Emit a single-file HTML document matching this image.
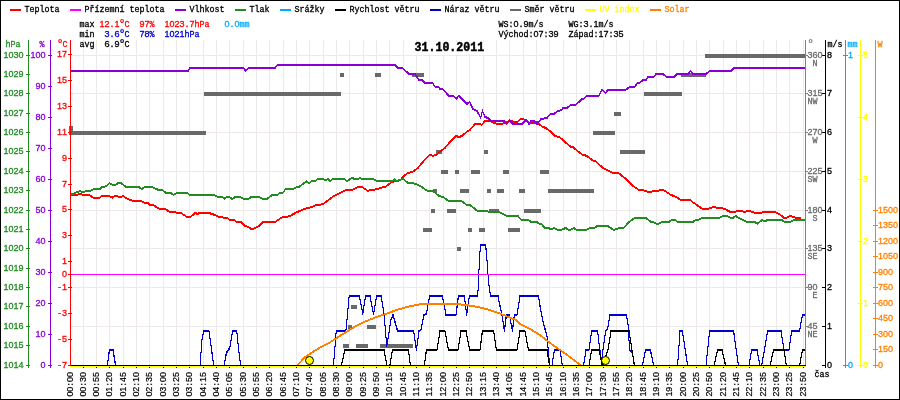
<!DOCTYPE html><html><head><meta charset="utf-8"><title>graf</title><style>html,body{margin:0;padding:0;background:#fff}svg{display:block;will-change:transform}text{font-family:"Liberation Mono",monospace;white-space:pre}.m{font-family:"Liberation Mono",monospace;font-size:8.4px}.s{font-family:"Liberation Sans",sans-serif;font-size:9px}.d{font-family:"Liberation Mono",monospace;font-size:12px}</style></head><body>
<svg width="900" height="400" viewBox="0 0 900 400">
<rect x="0" y="0" width="900" height="400" fill="#ffffff"/>
<g shape-rendering="crispEdges" stroke="#eee9e9" stroke-width="1">
<line x1="83.5" y1="40" x2="83.5" y2="365"/>
<line x1="96.5" y1="40" x2="96.5" y2="365"/>
<line x1="109.5" y1="40" x2="109.5" y2="365"/>
<line x1="123.5" y1="40" x2="123.5" y2="365"/>
<line x1="136.5" y1="40" x2="136.5" y2="365"/>
<line x1="149.5" y1="40" x2="149.5" y2="365"/>
<line x1="163.5" y1="40" x2="163.5" y2="365"/>
<line x1="176.5" y1="40" x2="176.5" y2="365"/>
<line x1="189.5" y1="40" x2="189.5" y2="365"/>
<line x1="203.5" y1="40" x2="203.5" y2="365"/>
<line x1="216.5" y1="40" x2="216.5" y2="365"/>
<line x1="229.5" y1="40" x2="229.5" y2="365"/>
<line x1="243.5" y1="40" x2="243.5" y2="365"/>
<line x1="256.5" y1="40" x2="256.5" y2="365"/>
<line x1="269.5" y1="40" x2="269.5" y2="365"/>
<line x1="283.5" y1="40" x2="283.5" y2="365"/>
<line x1="296.5" y1="40" x2="296.5" y2="365"/>
<line x1="309.5" y1="40" x2="309.5" y2="365"/>
<line x1="323.5" y1="40" x2="323.5" y2="365"/>
<line x1="336.5" y1="40" x2="336.5" y2="365"/>
<line x1="349.5" y1="40" x2="349.5" y2="365"/>
<line x1="363.5" y1="40" x2="363.5" y2="365"/>
<line x1="376.5" y1="40" x2="376.5" y2="365"/>
<line x1="389.5" y1="40" x2="389.5" y2="365"/>
<line x1="403.5" y1="40" x2="403.5" y2="365"/>
<line x1="416.5" y1="40" x2="416.5" y2="365"/>
<line x1="429.5" y1="40" x2="429.5" y2="365"/>
<line x1="443.5" y1="40" x2="443.5" y2="365"/>
<line x1="456.5" y1="40" x2="456.5" y2="365"/>
<line x1="469.5" y1="40" x2="469.5" y2="365"/>
<line x1="483.5" y1="40" x2="483.5" y2="365"/>
<line x1="496.5" y1="40" x2="496.5" y2="365"/>
<line x1="509.5" y1="40" x2="509.5" y2="365"/>
<line x1="523.5" y1="40" x2="523.5" y2="365"/>
<line x1="536.5" y1="40" x2="536.5" y2="365"/>
<line x1="549.5" y1="40" x2="549.5" y2="365"/>
<line x1="563.5" y1="40" x2="563.5" y2="365"/>
<line x1="576.5" y1="40" x2="576.5" y2="365"/>
<line x1="589.5" y1="40" x2="589.5" y2="365"/>
<line x1="603.5" y1="40" x2="603.5" y2="365"/>
<line x1="616.5" y1="40" x2="616.5" y2="365"/>
<line x1="629.5" y1="40" x2="629.5" y2="365"/>
<line x1="643.5" y1="40" x2="643.5" y2="365"/>
<line x1="656.5" y1="40" x2="656.5" y2="365"/>
<line x1="669.5" y1="40" x2="669.5" y2="365"/>
<line x1="683.5" y1="40" x2="683.5" y2="365"/>
<line x1="696.5" y1="40" x2="696.5" y2="365"/>
<line x1="709.5" y1="40" x2="709.5" y2="365"/>
<line x1="723.5" y1="40" x2="723.5" y2="365"/>
<line x1="736.5" y1="40" x2="736.5" y2="365"/>
<line x1="749.5" y1="40" x2="749.5" y2="365"/>
<line x1="763.5" y1="40" x2="763.5" y2="365"/>
<line x1="776.5" y1="40" x2="776.5" y2="365"/>
<line x1="789.5" y1="40" x2="789.5" y2="365"/>
<line x1="803.5" y1="40" x2="803.5" y2="365"/>
<line x1="70" y1="55.5" x2="805" y2="55.5"/>
<line x1="70" y1="93.5" x2="805" y2="93.5"/>
<line x1="70" y1="132.5" x2="805" y2="132.5"/>
<line x1="70" y1="171.5" x2="805" y2="171.5"/>
<line x1="70" y1="210.5" x2="805" y2="210.5"/>
<line x1="70" y1="248.5" x2="805" y2="248.5"/>
<line x1="70" y1="287.5" x2="805" y2="287.5"/>
<line x1="70" y1="326.5" x2="805" y2="326.5"/>
</g>
<g shape-rendering="crispEdges" fill="#696969">
<rect x="69" y="131" width="137" height="4"/>
<rect x="593" y="131" width="22" height="4"/>
<rect x="204" y="92" width="137" height="4"/>
<rect x="644" y="92" width="38" height="4"/>
<rect x="340" y="73" width="4" height="4"/>
<rect x="375" y="73" width="6" height="4"/>
<rect x="412" y="73" width="12" height="4"/>
<rect x="681" y="73" width="25" height="4"/>
<rect x="705" y="54" width="101" height="4"/>
<rect x="614" y="112" width="7" height="4"/>
<rect x="436" y="150" width="6" height="4"/>
<rect x="484" y="150" width="4" height="4"/>
<rect x="620" y="150" width="25" height="4"/>
<rect x="441" y="170" width="7" height="4"/>
<rect x="455" y="170" width="4" height="4"/>
<rect x="471" y="170" width="9" height="4"/>
<rect x="503" y="170" width="6" height="4"/>
<rect x="540" y="170" width="9" height="4"/>
<rect x="433" y="189" width="4" height="4"/>
<rect x="460" y="189" width="9" height="4"/>
<rect x="487" y="189" width="4" height="4"/>
<rect x="497" y="189" width="7" height="4"/>
<rect x="519" y="189" width="6" height="4"/>
<rect x="548" y="189" width="46" height="4"/>
<rect x="431" y="209" width="4" height="4"/>
<rect x="447" y="209" width="9" height="4"/>
<rect x="489" y="209" width="10" height="4"/>
<rect x="524" y="209" width="17" height="4"/>
<rect x="423" y="228" width="9" height="4"/>
<rect x="468" y="228" width="4" height="4"/>
<rect x="479" y="228" width="6" height="4"/>
<rect x="508" y="228" width="12" height="4"/>
<rect x="457" y="247" width="4" height="4"/>
<rect x="351" y="305" width="6" height="4"/>
<rect x="348" y="325" width="4" height="4"/>
<rect x="367" y="325" width="9" height="4"/>
<rect x="343" y="344" width="6" height="4"/>
<rect x="356" y="344" width="12" height="4"/>
<rect x="380" y="344" width="33" height="4"/>
<rect x="69" y="126" width="4" height="6"/>
</g>
<polyline points="70.0,365.0 107.4,365.0 109.4,349.5 113.0,349.5 115.6,365.0 200.0,365.0 202.0,339.5 203.6,330.5 209.0,330.5 211.0,344.5 213.6,365.0 224.0,365.0 226.4,352.5 229.0,348.5 230.0,345.9 232.4,331.5 233.0,330.5 236.8,330.5 238.5,347.5 240.6,365.0 333.5,365.0 336.2,330.5 345.9,330.5 349.2,295.5 359.4,295.5 362.8,313.5 365.5,295.5 370.0,295.5 373.5,313.5 376.7,295.5 381.2,295.5 384.0,313.5 386.8,345.9 391.0,318.9 393.0,314.5 397.6,330.5 413.6,330.5 416.4,349.5 419.0,330.5 421.0,329.5 424.0,314.5 426.4,313.5 429.6,295.5 442.4,295.5 446.0,314.5 456.0,314.5 458.4,295.5 464.4,295.5 466.6,314.5 469.0,297.9 470.0,295.5 477.4,295.5 478.5,286.5 479.0,269.5 479.8,253.2 480.6,244.5 485.5,244.5 486.3,250.8 487.2,262.1 488.0,273.5 488.8,283.3 489.6,290.5 490.7,295.5 498.0,295.5 500.0,305.5 502.0,314.5 504.4,330.5 506.4,314.5 509.6,314.5 512.4,330.5 514.4,314.5 517.0,314.5 520.0,295.5 538.4,295.5 540.0,305.5 543.6,323.5 545.6,330.5 547.0,335.5 549.6,365.0 552.0,365.0 554.4,349.5 560.0,349.5 562.4,365.0 583.6,365.0 586.0,349.5 589.0,349.1 591.6,330.5 597.6,330.5 599.6,347.5 602.0,363.5 603.0,349.5 605.6,330.5 607.6,328.5 610.0,314.5 626.4,314.5 628.0,323.5 629.6,349.5 632.3,351.5 634.4,365.0 642.4,365.0 645.6,349.5 650.4,349.5 653.6,365.0 677.6,365.0 680.0,330.5 682.4,330.5 687.6,365.0 706.0,365.0 709.6,330.5 733.6,330.5 738.4,365.0 749.0,365.0 751.6,349.5 757.0,349.5 760.0,365.0 761.6,365.0 764.4,349.5 767.6,330.5 781.0,330.5 784.0,349.5 789.0,349.5 791.6,330.5 799.6,330.5 802.4,314.5 806.0,314.5" fill="none" stroke="#0000cd" stroke-width="1" stroke-linejoin="miter" shape-rendering="crispEdges"/>
<polyline points="70.0,366.0 107.4,366.0 109.4,350.5 113.0,350.5 115.6,366.0 200.0,366.0 202.0,340.5 203.6,331.5 209.0,331.5 211.0,345.5 213.6,366.0 224.0,366.0 226.4,353.5 229.0,349.5 230.0,346.9 232.4,332.5 233.0,331.5 236.8,331.5 238.5,348.5 240.6,366.0 333.5,366.0 336.2,331.5 345.9,331.5 349.2,296.5 359.4,296.5 362.8,314.5 365.5,296.5 370.0,296.5 373.5,314.5 376.7,296.5 381.2,296.5 384.0,314.5 386.8,346.9 391.0,319.9 393.0,315.5 397.6,331.5 413.6,331.5 416.4,350.5 419.0,331.5 421.0,330.5 424.0,315.5 426.4,314.5 429.6,296.5 442.4,296.5 446.0,315.5 456.0,315.5 458.4,296.5 464.4,296.5 466.6,315.5 469.0,298.9 470.0,296.5 477.4,296.5 478.5,287.5 479.0,270.5 479.8,254.2 480.6,245.5 485.5,245.5 486.3,251.8 487.2,263.1 488.0,274.5 488.8,284.3 489.6,291.5 490.7,296.5 498.0,296.5 500.0,306.5 502.0,315.5 504.4,331.5 506.4,315.5 509.6,315.5 512.4,331.5 514.4,315.5 517.0,315.5 520.0,296.5 538.4,296.5 540.0,306.5 543.6,324.5 545.6,331.5 547.0,336.5 549.6,366.0 552.0,366.0 554.4,350.5 560.0,350.5 562.4,366.0 583.6,366.0 586.0,350.5 589.0,350.1 591.6,331.5 597.6,331.5 599.6,348.5 602.0,364.5 603.0,350.5 605.6,331.5 607.6,329.5 610.0,315.5 626.4,315.5 628.0,324.5 629.6,350.5 632.3,352.5 634.4,366.0 642.4,366.0 645.6,350.5 650.4,350.5 653.6,366.0 677.6,366.0 680.0,331.5 682.4,331.5 687.6,366.0 706.0,366.0 709.6,331.5 733.6,331.5 738.4,366.0 749.0,366.0 751.6,350.5 757.0,350.5 760.0,366.0 761.6,366.0 764.4,350.5 767.6,331.5 781.0,331.5 784.0,350.5 789.0,350.5 791.6,331.5 799.6,331.5 802.4,315.5 806.0,315.5" fill="none" stroke="#0000cd" stroke-width="1" stroke-linejoin="miter" shape-rendering="crispEdges"/>
<polyline points="70.0,365.0 341.4,365.0 344.8,349.5 384.0,349.5 387.0,365.0 389.8,365.0 392.5,349.5 408.4,349.5 410.4,365.0 424.4,365.0 426.4,349.5 437.0,349.5 440.0,330.5 445.0,330.5 448.4,349.5 458.0,349.5 461.0,330.5 466.0,330.5 469.6,349.5 480.0,349.5 482.4,330.5 493.6,330.5 496.4,349.5 517.0,349.5 520.0,330.5 525.0,330.5 528.4,349.5 547.0,349.5 549.6,365.0 589.0,365.0 591.6,349.5 599.0,349.5 602.4,365.0 603.0,365.0 605.0,357.5 608.0,349.5 611.0,330.5 629.0,330.5 634.4,365.0 714.0,365.0 717.6,349.5 722.0,349.5 725.6,365.0 770.0,365.0 773.6,349.5 784.0,349.5 786.4,365.0 799.6,365.0 802.4,349.5 806.0,349.5" fill="none" stroke="#000000" stroke-width="1" stroke-linejoin="miter" shape-rendering="crispEdges"/>
<polyline points="70.0,366.0 341.4,366.0 344.8,350.5 384.0,350.5 387.0,366.0 389.8,366.0 392.5,350.5 408.4,350.5 410.4,366.0 424.4,366.0 426.4,350.5 437.0,350.5 440.0,331.5 445.0,331.5 448.4,350.5 458.0,350.5 461.0,331.5 466.0,331.5 469.6,350.5 480.0,350.5 482.4,331.5 493.6,331.5 496.4,350.5 517.0,350.5 520.0,331.5 525.0,331.5 528.4,350.5 547.0,350.5 549.6,366.0 589.0,366.0 591.6,350.5 599.0,350.5 602.4,366.0 603.0,366.0 605.0,358.5 608.0,350.5 611.0,331.5 629.0,331.5 634.4,366.0 714.0,366.0 717.6,350.5 722.0,350.5 725.6,366.0 770.0,366.0 773.6,350.5 784.0,350.5 786.4,366.0 799.6,366.0 802.4,350.5 806.0,350.5" fill="none" stroke="#000000" stroke-width="1" stroke-linejoin="miter" shape-rendering="crispEdges"/>
<rect x="70" y="365" width="736" height="2" fill="#ffff00" shape-rendering="crispEdges"/>
<polyline points="297.5,365.0 304.2,357.1 311.0,352.6 320.0,347.0 329.0,342.5 335.8,338.0 344.8,332.4 353.8,326.8 365.0,321.1 376.2,316.6 387.5,312.8 398.8,308.8 410.0,305.7 420.0,303.9 430.0,303.5 450.0,303.5 460.0,303.9 470.0,305.1 480.0,307.1 490.0,309.5 500.0,313.1 510.0,317.1 516.0,319.5 520.0,323.5 530.0,328.5 540.0,334.5 550.0,342.5 560.0,349.5 570.0,356.5 581.0,365.0" fill="none" stroke="#ff8000" stroke-width="1" stroke-linejoin="miter" shape-rendering="crispEdges"/>
<polyline points="297.5,366.0 304.2,358.1 311.0,353.6 320.0,348.0 329.0,343.5 335.8,339.0 344.8,333.4 353.8,327.8 365.0,322.1 376.2,317.6 387.5,313.8 398.8,309.8 410.0,306.7 420.0,304.9 430.0,304.5 450.0,304.5 460.0,304.9 470.0,306.1 480.0,308.1 490.0,310.5 500.0,314.1 510.0,318.1 516.0,320.5 520.0,324.5 530.0,329.5 540.0,335.5 550.0,343.5 560.0,350.5 570.0,357.5 581.0,366.0" fill="none" stroke="#ff8000" stroke-width="1" stroke-linejoin="miter" shape-rendering="crispEdges"/>
<polyline points="70.0,193.9 75.0,194.9 80.0,193.5 84.0,194.5 89.0,194.5 94.0,197.5 99.0,197.5 102.0,195.5 109.0,195.5 112.4,197.1 116.0,195.1 120.0,197.1 123.0,195.5 127.0,198.1 133.0,200.5 141.0,200.5 145.0,202.5 148.0,202.5 150.0,204.5 153.0,204.5 158.0,207.5 160.0,208.5 165.0,208.5 170.0,211.5 175.0,211.5 177.0,212.5 181.0,212.5 187.0,216.5 190.0,216.5 193.0,214.5 195.6,212.1 197.0,213.5 200.0,212.5 209.0,212.5 215.0,214.5 218.0,215.9 223.0,217.1 227.0,217.5 230.0,219.5 234.0,219.5 237.0,221.5 241.0,221.5 245.0,225.5 247.0,225.9 252.0,228.9 254.0,227.9 259.0,225.5 263.0,221.5 275.0,221.5 282.0,216.9 285.0,216.9 290.0,215.5 296.0,212.1 307.0,207.5 311.0,206.9 316.0,204.5 320.0,204.5 324.0,202.9 334.0,195.5 340.0,192.5 346.0,189.5 352.0,189.5 358.0,186.5 362.0,186.5 368.0,190.5 370.0,189.5 376.0,188.9 386.0,185.9 392.0,181.5 400.0,179.9 404.0,175.5 408.0,172.5 413.0,171.1 418.0,167.5 421.0,163.5 430.0,153.9 433.0,155.5 437.0,153.9 442.0,149.5 445.0,147.5 450.0,141.5 456.0,135.5 459.0,136.5 462.0,135.5 467.0,131.1 470.0,129.5 475.0,123.5 479.0,123.1 481.6,124.5 485.0,120.5 490.0,120.1 494.0,122.5 498.0,123.5 502.0,123.5 506.0,121.5 511.0,120.5 517.0,121.9 520.0,119.1 523.0,118.5 527.0,120.5 530.0,122.5 534.0,122.5 537.0,121.1 540.0,124.5 543.0,126.5 546.0,127.5 551.0,131.5 555.0,135.5 560.0,136.9 564.0,140.5 570.0,145.9 573.0,146.5 577.0,150.1 582.0,153.9 587.0,155.5 592.0,159.5 596.0,161.1 603.0,167.5 612.0,172.1 618.0,172.1 626.0,178.5 633.0,185.5 639.0,189.5 643.0,189.5 647.0,191.1 652.0,191.1 656.0,190.1 659.0,190.1 663.0,189.1 670.0,193.9 676.0,196.5 681.0,199.5 690.0,199.5 694.0,202.5 702.0,208.1 709.0,208.1 714.0,206.5 718.0,207.5 724.0,208.1 729.6,211.1 736.0,211.1 739.0,210.1 743.0,211.1 746.0,211.1 749.0,210.1 756.0,212.9 759.0,212.9 762.0,211.9 776.0,211.9 780.0,213.9 784.0,217.5 787.0,217.1 790.0,215.5 795.0,217.1 801.0,218.1" fill="none" stroke="#ff0000" stroke-width="1" stroke-linejoin="miter" shape-rendering="crispEdges"/>
<polyline points="70.0,194.9 75.0,195.9 80.0,194.5 84.0,195.5 89.0,195.5 94.0,198.5 99.0,198.5 102.0,196.5 109.0,196.5 112.4,198.1 116.0,196.1 120.0,198.1 123.0,196.5 127.0,199.1 133.0,201.5 141.0,201.5 145.0,203.5 148.0,203.5 150.0,205.5 153.0,205.5 158.0,208.5 160.0,209.5 165.0,209.5 170.0,212.5 175.0,212.5 177.0,213.5 181.0,213.5 187.0,217.5 190.0,217.5 193.0,215.5 195.6,213.1 197.0,214.5 200.0,213.5 209.0,213.5 215.0,215.5 218.0,216.9 223.0,218.1 227.0,218.5 230.0,220.5 234.0,220.5 237.0,222.5 241.0,222.5 245.0,226.5 247.0,226.9 252.0,229.9 254.0,228.9 259.0,226.5 263.0,222.5 275.0,222.5 282.0,217.9 285.0,217.9 290.0,216.5 296.0,213.1 307.0,208.5 311.0,207.9 316.0,205.5 320.0,205.5 324.0,203.9 334.0,196.5 340.0,193.5 346.0,190.5 352.0,190.5 358.0,187.5 362.0,187.5 368.0,191.5 370.0,190.5 376.0,189.9 386.0,186.9 392.0,182.5 400.0,180.9 404.0,176.5 408.0,173.5 413.0,172.1 418.0,168.5 421.0,164.5 430.0,154.9 433.0,156.5 437.0,154.9 442.0,150.5 445.0,148.5 450.0,142.5 456.0,136.5 459.0,137.5 462.0,136.5 467.0,132.1 470.0,130.5 475.0,124.5 479.0,124.1 481.6,125.5 485.0,121.5 490.0,121.1 494.0,123.5 498.0,124.5 502.0,124.5 506.0,122.5 511.0,121.5 517.0,122.9 520.0,120.1 523.0,119.5 527.0,121.5 530.0,123.5 534.0,123.5 537.0,122.1 540.0,125.5 543.0,127.5 546.0,128.5 551.0,132.5 555.0,136.5 560.0,137.9 564.0,141.5 570.0,146.9 573.0,147.5 577.0,151.1 582.0,154.9 587.0,156.5 592.0,160.5 596.0,162.1 603.0,168.5 612.0,173.1 618.0,173.1 626.0,179.5 633.0,186.5 639.0,190.5 643.0,190.5 647.0,192.1 652.0,192.1 656.0,191.1 659.0,191.1 663.0,190.1 670.0,194.9 676.0,197.5 681.0,200.5 690.0,200.5 694.0,203.5 702.0,209.1 709.0,209.1 714.0,207.5 718.0,208.5 724.0,209.1 729.6,212.1 736.0,212.1 739.0,211.1 743.0,212.1 746.0,212.1 749.0,211.1 756.0,213.9 759.0,213.9 762.0,212.9 776.0,212.9 780.0,214.9 784.0,218.5 787.0,218.1 790.0,216.5 795.0,218.1 801.0,219.1" fill="none" stroke="#ff0000" stroke-width="1" stroke-linejoin="miter" shape-rendering="crispEdges"/>
<rect x="70" y="274" width="736" height="1" fill="#ff00ff" shape-rendering="crispEdges"/>
<polyline points="70.0,70.5 188.0,70.5 190.0,67.5 243.6,67.5 245.6,70.5 248.4,67.5 275.0,67.5 277.4,64.5 395.0,64.5 398.0,67.5 402.4,67.5 409.0,73.5 415.0,73.5 419.0,79.5 422.0,79.5 425.0,82.5 432.4,82.5 435.0,86.1 438.0,86.1 440.4,88.9 443.0,88.9 449.0,95.5 453.6,95.5 456.4,98.5 458.4,95.1 463.0,99.5 467.0,103.5 469.6,101.5 473.0,108.5 477.0,110.5 480.6,117.1 482.4,110.5 485.0,116.5 488.0,117.5 491.0,120.5 504.0,120.5 506.4,123.5 509.6,120.1 513.0,123.5 522.0,123.5 526.0,119.5 529.0,123.5 531.0,120.5 534.0,120.5 537.0,123.5 541.0,118.5 547.0,117.5 550.0,113.9 554.0,113.5 558.0,110.5 561.0,109.9 563.0,107.5 567.0,107.5 571.0,104.5 575.6,104.5 582.0,98.5 584.0,98.1 587.0,95.1 599.0,95.1 602.0,88.9 605.6,92.5 608.0,89.1 626.0,89.1 630.0,86.1 635.0,86.1 637.0,82.9 640.0,81.9 643.0,79.5 646.0,79.5 648.0,76.5 653.6,76.5 656.0,73.5 663.0,73.5 667.0,76.5 674.0,76.5 677.0,73.5 688.0,73.5 690.6,70.5 693.0,73.5 706.0,73.5 709.6,70.5 731.0,70.5 734.0,67.5 806.0,67.5" fill="none" stroke="#8a00d4" stroke-width="1" stroke-linejoin="miter" shape-rendering="crispEdges"/>
<polyline points="70.0,71.5 188.0,71.5 190.0,68.5 243.6,68.5 245.6,71.5 248.4,68.5 275.0,68.5 277.4,65.5 395.0,65.5 398.0,68.5 402.4,68.5 409.0,74.5 415.0,74.5 419.0,80.5 422.0,80.5 425.0,83.5 432.4,83.5 435.0,87.1 438.0,87.1 440.4,89.9 443.0,89.9 449.0,96.5 453.6,96.5 456.4,99.5 458.4,96.1 463.0,100.5 467.0,104.5 469.6,102.5 473.0,109.5 477.0,111.5 480.6,118.1 482.4,111.5 485.0,117.5 488.0,118.5 491.0,121.5 504.0,121.5 506.4,124.5 509.6,121.1 513.0,124.5 522.0,124.5 526.0,120.5 529.0,124.5 531.0,121.5 534.0,121.5 537.0,124.5 541.0,119.5 547.0,118.5 550.0,114.9 554.0,114.5 558.0,111.5 561.0,110.9 563.0,108.5 567.0,108.5 571.0,105.5 575.6,105.5 582.0,99.5 584.0,99.1 587.0,96.1 599.0,96.1 602.0,89.9 605.6,93.5 608.0,90.1 626.0,90.1 630.0,87.1 635.0,87.1 637.0,83.9 640.0,82.9 643.0,80.5 646.0,80.5 648.0,77.5 653.6,77.5 656.0,74.5 663.0,74.5 667.0,77.5 674.0,77.5 677.0,74.5 688.0,74.5 690.6,71.5 693.0,74.5 706.0,74.5 709.6,71.5 731.0,71.5 734.0,68.5 806.0,68.5" fill="none" stroke="#8a00d4" stroke-width="1" stroke-linejoin="miter" shape-rendering="crispEdges"/>
<polyline points="70.0,194.5 80.0,190.5 83.0,191.9 86.0,190.5 92.0,189.9 94.0,188.5 100.0,188.5 102.0,186.5 106.0,185.9 109.6,182.5 112.4,184.5 115.6,184.5 118.0,182.5 121.0,182.5 126.0,186.5 139.0,186.5 141.6,188.5 145.0,186.5 152.0,186.5 156.0,188.5 160.0,189.9 163.0,189.9 166.0,192.5 171.0,192.5 173.6,194.5 176.4,192.5 187.0,192.5 190.0,194.5 214.0,194.5 217.0,196.1 222.0,196.5 224.4,198.1 228.0,196.1 232.4,198.5 235.0,196.5 240.0,196.5 244.0,198.5 248.0,198.5 252.0,196.1 259.0,196.1 262.4,198.5 267.0,198.5 272.0,194.5 277.0,194.5 280.0,192.5 283.0,192.1 285.6,188.5 293.0,188.5 297.0,186.5 299.0,186.5 303.0,183.5 306.6,180.9 309.0,182.5 312.0,180.5 315.0,180.5 318.0,178.5 323.0,178.5 325.6,179.9 328.0,178.5 330.0,180.5 333.0,178.5 344.0,178.5 347.0,180.5 352.0,177.5 355.0,178.5 358.0,178.5 360.0,177.5 362.0,178.5 373.0,178.5 377.0,180.5 392.0,180.5 394.4,178.9 397.0,180.5 402.0,178.5 404.0,179.1 408.0,182.5 413.0,182.5 418.0,184.5 421.0,186.1 427.0,190.1 433.0,190.5 439.0,195.5 443.0,196.5 448.0,200.1 461.0,200.1 467.0,204.5 470.0,204.5 477.0,210.1 487.0,210.1 489.0,211.9 500.0,211.9 507.0,215.5 518.0,215.5 521.0,219.1 528.0,219.1 531.0,221.5 537.0,221.5 539.0,223.1 541.0,223.1 545.0,227.5 549.0,227.5 551.0,229.1 553.6,227.5 557.0,229.1 562.0,229.1 565.6,227.5 568.0,229.1 571.0,229.1 573.6,227.5 576.0,229.1 586.0,229.5 590.0,227.5 594.0,227.5 598.0,225.1 607.0,225.1 614.0,229.5 619.0,227.5 623.6,227.5 628.0,222.5 634.4,217.5 646.0,217.5 651.0,221.5 653.6,221.5 656.4,223.5 659.0,223.1 662.0,221.5 669.0,221.5 672.0,219.1 675.0,219.5 678.0,221.5 693.0,221.5 696.0,219.1 699.0,219.1 702.0,217.5 719.0,217.5 723.0,215.5 727.0,215.5 731.0,217.5 733.0,217.5 735.6,215.5 739.0,217.5 742.0,219.1 746.0,221.1 754.0,221.1 757.6,223.1 762.0,219.5 765.0,221.1 768.0,219.1 781.0,219.1 784.0,221.1 791.0,221.1 795.0,219.1 806.0,219.1" fill="none" stroke="#228b22" stroke-width="1" stroke-linejoin="miter" shape-rendering="crispEdges"/>
<polyline points="70.0,195.5 80.0,191.5 83.0,192.9 86.0,191.5 92.0,190.9 94.0,189.5 100.0,189.5 102.0,187.5 106.0,186.9 109.6,183.5 112.4,185.5 115.6,185.5 118.0,183.5 121.0,183.5 126.0,187.5 139.0,187.5 141.6,189.5 145.0,187.5 152.0,187.5 156.0,189.5 160.0,190.9 163.0,190.9 166.0,193.5 171.0,193.5 173.6,195.5 176.4,193.5 187.0,193.5 190.0,195.5 214.0,195.5 217.0,197.1 222.0,197.5 224.4,199.1 228.0,197.1 232.4,199.5 235.0,197.5 240.0,197.5 244.0,199.5 248.0,199.5 252.0,197.1 259.0,197.1 262.4,199.5 267.0,199.5 272.0,195.5 277.0,195.5 280.0,193.5 283.0,193.1 285.6,189.5 293.0,189.5 297.0,187.5 299.0,187.5 303.0,184.5 306.6,181.9 309.0,183.5 312.0,181.5 315.0,181.5 318.0,179.5 323.0,179.5 325.6,180.9 328.0,179.5 330.0,181.5 333.0,179.5 344.0,179.5 347.0,181.5 352.0,178.5 355.0,179.5 358.0,179.5 360.0,178.5 362.0,179.5 373.0,179.5 377.0,181.5 392.0,181.5 394.4,179.9 397.0,181.5 402.0,179.5 404.0,180.1 408.0,183.5 413.0,183.5 418.0,185.5 421.0,187.1 427.0,191.1 433.0,191.5 439.0,196.5 443.0,197.5 448.0,201.1 461.0,201.1 467.0,205.5 470.0,205.5 477.0,211.1 487.0,211.1 489.0,212.9 500.0,212.9 507.0,216.5 518.0,216.5 521.0,220.1 528.0,220.1 531.0,222.5 537.0,222.5 539.0,224.1 541.0,224.1 545.0,228.5 549.0,228.5 551.0,230.1 553.6,228.5 557.0,230.1 562.0,230.1 565.6,228.5 568.0,230.1 571.0,230.1 573.6,228.5 576.0,230.1 586.0,230.5 590.0,228.5 594.0,228.5 598.0,226.1 607.0,226.1 614.0,230.5 619.0,228.5 623.6,228.5 628.0,223.5 634.4,218.5 646.0,218.5 651.0,222.5 653.6,222.5 656.4,224.5 659.0,224.1 662.0,222.5 669.0,222.5 672.0,220.1 675.0,220.5 678.0,222.5 693.0,222.5 696.0,220.1 699.0,220.1 702.0,218.5 719.0,218.5 723.0,216.5 727.0,216.5 731.0,218.5 733.0,218.5 735.6,216.5 739.0,218.5 742.0,220.1 746.0,222.1 754.0,222.1 757.6,224.1 762.0,220.5 765.0,222.1 768.0,220.1 781.0,220.1 784.0,222.1 791.0,222.1 795.0,220.1 806.0,220.1" fill="none" stroke="#228b22" stroke-width="1" stroke-linejoin="miter" shape-rendering="crispEdges"/>
<circle cx="309.5" cy="360.5" r="4" fill="#ffff00" stroke="#000" stroke-width="1"/>
<circle cx="605.5" cy="360.5" r="4" fill="#ffff00" stroke="#000" stroke-width="1"/>
<text fill="#000000" stroke="#000000" stroke-width="0.2" text-anchor="middle" transform="translate(73.3,396.4) rotate(-90)"><tspan class="s" x="2.42" y="0.0">0</tspan><tspan class="s" x="7.27" y="0.0">0</tspan><tspan class="m" x="12.12" y="0.0">:</tspan><tspan class="s" x="16.97" y="0.0">0</tspan><tspan class="s" x="21.82" y="0.0">0</tspan></text>
<rect x="83" y="367" width="1" height="1" fill="#000" shape-rendering="crispEdges"/>
<text fill="#000000" stroke="#000000" stroke-width="0.2" text-anchor="middle" transform="translate(86.3,396.4) rotate(-90)"><tspan class="s" x="2.42" y="0.0">0</tspan><tspan class="s" x="7.27" y="0.0">0</tspan><tspan class="m" x="12.12" y="0.0">:</tspan><tspan class="s" x="16.97" y="0.0">3</tspan><tspan class="s" x="21.82" y="0.0">0</tspan></text>
<rect x="96" y="367" width="1" height="1" fill="#000" shape-rendering="crispEdges"/>
<text fill="#000000" stroke="#000000" stroke-width="0.2" text-anchor="middle" transform="translate(99.3,396.4) rotate(-90)"><tspan class="s" x="2.42" y="0.0">0</tspan><tspan class="s" x="7.27" y="0.0">0</tspan><tspan class="m" x="12.12" y="0.0">:</tspan><tspan class="s" x="16.97" y="0.0">5</tspan><tspan class="s" x="21.82" y="0.0">5</tspan></text>
<rect x="109" y="367" width="1" height="1" fill="#000" shape-rendering="crispEdges"/>
<text fill="#000000" stroke="#000000" stroke-width="0.2" text-anchor="middle" transform="translate(112.3,396.4) rotate(-90)"><tspan class="s" x="2.42" y="0.0">0</tspan><tspan class="s" x="7.27" y="0.0">1</tspan><tspan class="m" x="12.12" y="0.0">:</tspan><tspan class="s" x="16.97" y="0.0">2</tspan><tspan class="s" x="21.82" y="0.0">0</tspan></text>
<rect x="123" y="367" width="1" height="1" fill="#000" shape-rendering="crispEdges"/>
<text fill="#000000" stroke="#000000" stroke-width="0.2" text-anchor="middle" transform="translate(126.3,396.4) rotate(-90)"><tspan class="s" x="2.42" y="0.0">0</tspan><tspan class="s" x="7.27" y="0.0">1</tspan><tspan class="m" x="12.12" y="0.0">:</tspan><tspan class="s" x="16.97" y="0.0">4</tspan><tspan class="s" x="21.82" y="0.0">5</tspan></text>
<rect x="136" y="367" width="1" height="1" fill="#000" shape-rendering="crispEdges"/>
<text fill="#000000" stroke="#000000" stroke-width="0.2" text-anchor="middle" transform="translate(139.3,396.4) rotate(-90)"><tspan class="s" x="2.42" y="0.0">0</tspan><tspan class="s" x="7.27" y="0.0">2</tspan><tspan class="m" x="12.12" y="0.0">:</tspan><tspan class="s" x="16.97" y="0.0">1</tspan><tspan class="s" x="21.82" y="0.0">0</tspan></text>
<rect x="149" y="367" width="1" height="1" fill="#000" shape-rendering="crispEdges"/>
<text fill="#000000" stroke="#000000" stroke-width="0.2" text-anchor="middle" transform="translate(152.3,396.4) rotate(-90)"><tspan class="s" x="2.42" y="0.0">0</tspan><tspan class="s" x="7.27" y="0.0">2</tspan><tspan class="m" x="12.12" y="0.0">:</tspan><tspan class="s" x="16.97" y="0.0">3</tspan><tspan class="s" x="21.82" y="0.0">5</tspan></text>
<rect x="163" y="367" width="1" height="1" fill="#000" shape-rendering="crispEdges"/>
<text fill="#000000" stroke="#000000" stroke-width="0.2" text-anchor="middle" transform="translate(166.3,396.4) rotate(-90)"><tspan class="s" x="2.42" y="0.0">0</tspan><tspan class="s" x="7.27" y="0.0">3</tspan><tspan class="m" x="12.12" y="0.0">:</tspan><tspan class="s" x="16.97" y="0.0">0</tspan><tspan class="s" x="21.82" y="0.0">0</tspan></text>
<rect x="176" y="367" width="1" height="1" fill="#000" shape-rendering="crispEdges"/>
<text fill="#000000" stroke="#000000" stroke-width="0.2" text-anchor="middle" transform="translate(179.3,396.4) rotate(-90)"><tspan class="s" x="2.42" y="0.0">0</tspan><tspan class="s" x="7.27" y="0.0">3</tspan><tspan class="m" x="12.12" y="0.0">:</tspan><tspan class="s" x="16.97" y="0.0">2</tspan><tspan class="s" x="21.82" y="0.0">5</tspan></text>
<rect x="189" y="367" width="1" height="1" fill="#000" shape-rendering="crispEdges"/>
<text fill="#000000" stroke="#000000" stroke-width="0.2" text-anchor="middle" transform="translate(192.3,396.4) rotate(-90)"><tspan class="s" x="2.42" y="0.0">0</tspan><tspan class="s" x="7.27" y="0.0">3</tspan><tspan class="m" x="12.12" y="0.0">:</tspan><tspan class="s" x="16.97" y="0.0">5</tspan><tspan class="s" x="21.82" y="0.0">0</tspan></text>
<rect x="203" y="367" width="1" height="1" fill="#000" shape-rendering="crispEdges"/>
<text fill="#000000" stroke="#000000" stroke-width="0.2" text-anchor="middle" transform="translate(206.3,396.4) rotate(-90)"><tspan class="s" x="2.42" y="0.0">0</tspan><tspan class="s" x="7.27" y="0.0">4</tspan><tspan class="m" x="12.12" y="0.0">:</tspan><tspan class="s" x="16.97" y="0.0">1</tspan><tspan class="s" x="21.82" y="0.0">5</tspan></text>
<rect x="216" y="367" width="1" height="1" fill="#000" shape-rendering="crispEdges"/>
<text fill="#000000" stroke="#000000" stroke-width="0.2" text-anchor="middle" transform="translate(219.3,396.4) rotate(-90)"><tspan class="s" x="2.42" y="0.0">0</tspan><tspan class="s" x="7.27" y="0.0">4</tspan><tspan class="m" x="12.12" y="0.0">:</tspan><tspan class="s" x="16.97" y="0.0">4</tspan><tspan class="s" x="21.82" y="0.0">0</tspan></text>
<rect x="229" y="367" width="1" height="1" fill="#000" shape-rendering="crispEdges"/>
<text fill="#000000" stroke="#000000" stroke-width="0.2" text-anchor="middle" transform="translate(232.3,396.4) rotate(-90)"><tspan class="s" x="2.42" y="0.0">0</tspan><tspan class="s" x="7.27" y="0.0">5</tspan><tspan class="m" x="12.12" y="0.0">:</tspan><tspan class="s" x="16.97" y="0.0">0</tspan><tspan class="s" x="21.82" y="0.0">5</tspan></text>
<rect x="243" y="367" width="1" height="1" fill="#000" shape-rendering="crispEdges"/>
<text fill="#000000" stroke="#000000" stroke-width="0.2" text-anchor="middle" transform="translate(246.3,396.4) rotate(-90)"><tspan class="s" x="2.42" y="0.0">0</tspan><tspan class="s" x="7.27" y="0.0">5</tspan><tspan class="m" x="12.12" y="0.0">:</tspan><tspan class="s" x="16.97" y="0.0">3</tspan><tspan class="s" x="21.82" y="0.0">0</tspan></text>
<rect x="256" y="367" width="1" height="1" fill="#000" shape-rendering="crispEdges"/>
<text fill="#000000" stroke="#000000" stroke-width="0.2" text-anchor="middle" transform="translate(259.3,396.4) rotate(-90)"><tspan class="s" x="2.42" y="0.0">0</tspan><tspan class="s" x="7.27" y="0.0">5</tspan><tspan class="m" x="12.12" y="0.0">:</tspan><tspan class="s" x="16.97" y="0.0">5</tspan><tspan class="s" x="21.82" y="0.0">5</tspan></text>
<rect x="269" y="367" width="1" height="1" fill="#000" shape-rendering="crispEdges"/>
<text fill="#000000" stroke="#000000" stroke-width="0.2" text-anchor="middle" transform="translate(272.3,396.4) rotate(-90)"><tspan class="s" x="2.42" y="0.0">0</tspan><tspan class="s" x="7.27" y="0.0">6</tspan><tspan class="m" x="12.12" y="0.0">:</tspan><tspan class="s" x="16.97" y="0.0">2</tspan><tspan class="s" x="21.82" y="0.0">0</tspan></text>
<rect x="283" y="367" width="1" height="1" fill="#000" shape-rendering="crispEdges"/>
<text fill="#000000" stroke="#000000" stroke-width="0.2" text-anchor="middle" transform="translate(286.3,396.4) rotate(-90)"><tspan class="s" x="2.42" y="0.0">0</tspan><tspan class="s" x="7.27" y="0.0">6</tspan><tspan class="m" x="12.12" y="0.0">:</tspan><tspan class="s" x="16.97" y="0.0">4</tspan><tspan class="s" x="21.82" y="0.0">5</tspan></text>
<rect x="296" y="367" width="1" height="1" fill="#000" shape-rendering="crispEdges"/>
<text fill="#000000" stroke="#000000" stroke-width="0.2" text-anchor="middle" transform="translate(299.3,396.4) rotate(-90)"><tspan class="s" x="2.42" y="0.0">0</tspan><tspan class="s" x="7.27" y="0.0">7</tspan><tspan class="m" x="12.12" y="0.0">:</tspan><tspan class="s" x="16.97" y="0.0">1</tspan><tspan class="s" x="21.82" y="0.0">0</tspan></text>
<rect x="309" y="367" width="1" height="1" fill="#000" shape-rendering="crispEdges"/>
<text fill="#000000" stroke="#000000" stroke-width="0.2" text-anchor="middle" transform="translate(312.3,396.4) rotate(-90)"><tspan class="s" x="2.42" y="0.0">0</tspan><tspan class="s" x="7.27" y="0.0">7</tspan><tspan class="m" x="12.12" y="0.0">:</tspan><tspan class="s" x="16.97" y="0.0">4</tspan><tspan class="s" x="21.82" y="0.0">0</tspan></text>
<rect x="323" y="367" width="1" height="1" fill="#000" shape-rendering="crispEdges"/>
<text fill="#000000" stroke="#000000" stroke-width="0.2" text-anchor="middle" transform="translate(326.3,396.4) rotate(-90)"><tspan class="s" x="2.42" y="0.0">0</tspan><tspan class="s" x="7.27" y="0.0">8</tspan><tspan class="m" x="12.12" y="0.0">:</tspan><tspan class="s" x="16.97" y="0.0">0</tspan><tspan class="s" x="21.82" y="0.0">5</tspan></text>
<rect x="336" y="367" width="1" height="1" fill="#000" shape-rendering="crispEdges"/>
<text fill="#000000" stroke="#000000" stroke-width="0.2" text-anchor="middle" transform="translate(339.3,396.4) rotate(-90)"><tspan class="s" x="2.42" y="0.0">0</tspan><tspan class="s" x="7.27" y="0.0">8</tspan><tspan class="m" x="12.12" y="0.0">:</tspan><tspan class="s" x="16.97" y="0.0">3</tspan><tspan class="s" x="21.82" y="0.0">0</tspan></text>
<rect x="349" y="367" width="1" height="1" fill="#000" shape-rendering="crispEdges"/>
<text fill="#000000" stroke="#000000" stroke-width="0.2" text-anchor="middle" transform="translate(352.3,396.4) rotate(-90)"><tspan class="s" x="2.42" y="0.0">0</tspan><tspan class="s" x="7.27" y="0.0">9</tspan><tspan class="m" x="12.12" y="0.0">:</tspan><tspan class="s" x="16.97" y="0.0">0</tspan><tspan class="s" x="21.82" y="0.0">0</tspan></text>
<rect x="363" y="367" width="1" height="1" fill="#000" shape-rendering="crispEdges"/>
<text fill="#000000" stroke="#000000" stroke-width="0.2" text-anchor="middle" transform="translate(366.3,396.4) rotate(-90)"><tspan class="s" x="2.42" y="0.0">0</tspan><tspan class="s" x="7.27" y="0.0">9</tspan><tspan class="m" x="12.12" y="0.0">:</tspan><tspan class="s" x="16.97" y="0.0">2</tspan><tspan class="s" x="21.82" y="0.0">5</tspan></text>
<rect x="376" y="367" width="1" height="1" fill="#000" shape-rendering="crispEdges"/>
<text fill="#000000" stroke="#000000" stroke-width="0.2" text-anchor="middle" transform="translate(379.3,396.4) rotate(-90)"><tspan class="s" x="2.42" y="0.0">0</tspan><tspan class="s" x="7.27" y="0.0">9</tspan><tspan class="m" x="12.12" y="0.0">:</tspan><tspan class="s" x="16.97" y="0.0">5</tspan><tspan class="s" x="21.82" y="0.0">0</tspan></text>
<rect x="389" y="367" width="1" height="1" fill="#000" shape-rendering="crispEdges"/>
<text fill="#000000" stroke="#000000" stroke-width="0.2" text-anchor="middle" transform="translate(392.3,396.4) rotate(-90)"><tspan class="s" x="2.42" y="0.0">1</tspan><tspan class="s" x="7.27" y="0.0">0</tspan><tspan class="m" x="12.12" y="0.0">:</tspan><tspan class="s" x="16.97" y="0.0">1</tspan><tspan class="s" x="21.82" y="0.0">5</tspan></text>
<rect x="403" y="367" width="1" height="1" fill="#000" shape-rendering="crispEdges"/>
<text fill="#000000" stroke="#000000" stroke-width="0.2" text-anchor="middle" transform="translate(406.3,396.4) rotate(-90)"><tspan class="s" x="2.42" y="0.0">1</tspan><tspan class="s" x="7.27" y="0.0">0</tspan><tspan class="m" x="12.12" y="0.0">:</tspan><tspan class="s" x="16.97" y="0.0">4</tspan><tspan class="s" x="21.82" y="0.0">5</tspan></text>
<rect x="416" y="367" width="1" height="1" fill="#000" shape-rendering="crispEdges"/>
<text fill="#000000" stroke="#000000" stroke-width="0.2" text-anchor="middle" transform="translate(419.3,396.4) rotate(-90)"><tspan class="s" x="2.42" y="0.0">1</tspan><tspan class="s" x="7.27" y="0.0">1</tspan><tspan class="m" x="12.12" y="0.0">:</tspan><tspan class="s" x="16.97" y="0.0">1</tspan><tspan class="s" x="21.82" y="0.0">0</tspan></text>
<rect x="429" y="367" width="1" height="1" fill="#000" shape-rendering="crispEdges"/>
<text fill="#000000" stroke="#000000" stroke-width="0.2" text-anchor="middle" transform="translate(432.3,396.4) rotate(-90)"><tspan class="s" x="2.42" y="0.0">1</tspan><tspan class="s" x="7.27" y="0.0">1</tspan><tspan class="m" x="12.12" y="0.0">:</tspan><tspan class="s" x="16.97" y="0.0">3</tspan><tspan class="s" x="21.82" y="0.0">5</tspan></text>
<rect x="443" y="367" width="1" height="1" fill="#000" shape-rendering="crispEdges"/>
<text fill="#000000" stroke="#000000" stroke-width="0.2" text-anchor="middle" transform="translate(446.3,396.4) rotate(-90)"><tspan class="s" x="2.42" y="0.0">1</tspan><tspan class="s" x="7.27" y="0.0">2</tspan><tspan class="m" x="12.12" y="0.0">:</tspan><tspan class="s" x="16.97" y="0.0">0</tspan><tspan class="s" x="21.82" y="0.0">0</tspan></text>
<rect x="456" y="367" width="1" height="1" fill="#000" shape-rendering="crispEdges"/>
<text fill="#000000" stroke="#000000" stroke-width="0.2" text-anchor="middle" transform="translate(459.3,396.4) rotate(-90)"><tspan class="s" x="2.42" y="0.0">1</tspan><tspan class="s" x="7.27" y="0.0">2</tspan><tspan class="m" x="12.12" y="0.0">:</tspan><tspan class="s" x="16.97" y="0.0">2</tspan><tspan class="s" x="21.82" y="0.0">5</tspan></text>
<rect x="469" y="367" width="1" height="1" fill="#000" shape-rendering="crispEdges"/>
<text fill="#000000" stroke="#000000" stroke-width="0.2" text-anchor="middle" transform="translate(472.3,396.4) rotate(-90)"><tspan class="s" x="2.42" y="0.0">1</tspan><tspan class="s" x="7.27" y="0.0">2</tspan><tspan class="m" x="12.12" y="0.0">:</tspan><tspan class="s" x="16.97" y="0.0">5</tspan><tspan class="s" x="21.82" y="0.0">0</tspan></text>
<rect x="483" y="367" width="1" height="1" fill="#000" shape-rendering="crispEdges"/>
<text fill="#000000" stroke="#000000" stroke-width="0.2" text-anchor="middle" transform="translate(486.3,396.4) rotate(-90)"><tspan class="s" x="2.42" y="0.0">1</tspan><tspan class="s" x="7.27" y="0.0">3</tspan><tspan class="m" x="12.12" y="0.0">:</tspan><tspan class="s" x="16.97" y="0.0">1</tspan><tspan class="s" x="21.82" y="0.0">5</tspan></text>
<rect x="496" y="367" width="1" height="1" fill="#000" shape-rendering="crispEdges"/>
<text fill="#000000" stroke="#000000" stroke-width="0.2" text-anchor="middle" transform="translate(499.3,396.4) rotate(-90)"><tspan class="s" x="2.42" y="0.0">1</tspan><tspan class="s" x="7.27" y="0.0">3</tspan><tspan class="m" x="12.12" y="0.0">:</tspan><tspan class="s" x="16.97" y="0.0">4</tspan><tspan class="s" x="21.82" y="0.0">0</tspan></text>
<rect x="509" y="367" width="1" height="1" fill="#000" shape-rendering="crispEdges"/>
<text fill="#000000" stroke="#000000" stroke-width="0.2" text-anchor="middle" transform="translate(512.3,396.4) rotate(-90)"><tspan class="s" x="2.42" y="0.0">1</tspan><tspan class="s" x="7.27" y="0.0">4</tspan><tspan class="m" x="12.12" y="0.0">:</tspan><tspan class="s" x="16.97" y="0.0">0</tspan><tspan class="s" x="21.82" y="0.0">5</tspan></text>
<rect x="523" y="367" width="1" height="1" fill="#000" shape-rendering="crispEdges"/>
<text fill="#000000" stroke="#000000" stroke-width="0.2" text-anchor="middle" transform="translate(526.3,396.4) rotate(-90)"><tspan class="s" x="2.42" y="0.0">1</tspan><tspan class="s" x="7.27" y="0.0">4</tspan><tspan class="m" x="12.12" y="0.0">:</tspan><tspan class="s" x="16.97" y="0.0">4</tspan><tspan class="s" x="21.82" y="0.0">5</tspan></text>
<rect x="536" y="367" width="1" height="1" fill="#000" shape-rendering="crispEdges"/>
<text fill="#000000" stroke="#000000" stroke-width="0.2" text-anchor="middle" transform="translate(539.3,396.4) rotate(-90)"><tspan class="s" x="2.42" y="0.0">1</tspan><tspan class="s" x="7.27" y="0.0">5</tspan><tspan class="m" x="12.12" y="0.0">:</tspan><tspan class="s" x="16.97" y="0.0">1</tspan><tspan class="s" x="21.82" y="0.0">0</tspan></text>
<rect x="549" y="367" width="1" height="1" fill="#000" shape-rendering="crispEdges"/>
<text fill="#000000" stroke="#000000" stroke-width="0.2" text-anchor="middle" transform="translate(552.3,396.4) rotate(-90)"><tspan class="s" x="2.42" y="0.0">1</tspan><tspan class="s" x="7.27" y="0.0">5</tspan><tspan class="m" x="12.12" y="0.0">:</tspan><tspan class="s" x="16.97" y="0.0">4</tspan><tspan class="s" x="21.82" y="0.0">5</tspan></text>
<rect x="563" y="367" width="1" height="1" fill="#000" shape-rendering="crispEdges"/>
<text fill="#000000" stroke="#000000" stroke-width="0.2" text-anchor="middle" transform="translate(566.3,396.4) rotate(-90)"><tspan class="s" x="2.42" y="0.0">1</tspan><tspan class="s" x="7.27" y="0.0">6</tspan><tspan class="m" x="12.12" y="0.0">:</tspan><tspan class="s" x="16.97" y="0.0">1</tspan><tspan class="s" x="21.82" y="0.0">0</tspan></text>
<rect x="576" y="367" width="1" height="1" fill="#000" shape-rendering="crispEdges"/>
<text fill="#000000" stroke="#000000" stroke-width="0.2" text-anchor="middle" transform="translate(579.3,396.4) rotate(-90)"><tspan class="s" x="2.42" y="0.0">1</tspan><tspan class="s" x="7.27" y="0.0">6</tspan><tspan class="m" x="12.12" y="0.0">:</tspan><tspan class="s" x="16.97" y="0.0">3</tspan><tspan class="s" x="21.82" y="0.0">5</tspan></text>
<rect x="589" y="367" width="1" height="1" fill="#000" shape-rendering="crispEdges"/>
<text fill="#000000" stroke="#000000" stroke-width="0.2" text-anchor="middle" transform="translate(592.3,396.4) rotate(-90)"><tspan class="s" x="2.42" y="0.0">1</tspan><tspan class="s" x="7.27" y="0.0">7</tspan><tspan class="m" x="12.12" y="0.0">:</tspan><tspan class="s" x="16.97" y="0.0">0</tspan><tspan class="s" x="21.82" y="0.0">0</tspan></text>
<rect x="603" y="367" width="1" height="1" fill="#000" shape-rendering="crispEdges"/>
<text fill="#000000" stroke="#000000" stroke-width="0.2" text-anchor="middle" transform="translate(606.3,396.4) rotate(-90)"><tspan class="s" x="2.42" y="0.0">1</tspan><tspan class="s" x="7.27" y="0.0">7</tspan><tspan class="m" x="12.12" y="0.0">:</tspan><tspan class="s" x="16.97" y="0.0">3</tspan><tspan class="s" x="21.82" y="0.0">0</tspan></text>
<rect x="616" y="367" width="1" height="1" fill="#000" shape-rendering="crispEdges"/>
<text fill="#000000" stroke="#000000" stroke-width="0.2" text-anchor="middle" transform="translate(619.3,396.4) rotate(-90)"><tspan class="s" x="2.42" y="0.0">1</tspan><tspan class="s" x="7.27" y="0.0">7</tspan><tspan class="m" x="12.12" y="0.0">:</tspan><tspan class="s" x="16.97" y="0.0">5</tspan><tspan class="s" x="21.82" y="0.0">5</tspan></text>
<rect x="629" y="367" width="1" height="1" fill="#000" shape-rendering="crispEdges"/>
<text fill="#000000" stroke="#000000" stroke-width="0.2" text-anchor="middle" transform="translate(632.3,396.4) rotate(-90)"><tspan class="s" x="2.42" y="0.0">1</tspan><tspan class="s" x="7.27" y="0.0">8</tspan><tspan class="m" x="12.12" y="0.0">:</tspan><tspan class="s" x="16.97" y="0.0">2</tspan><tspan class="s" x="21.82" y="0.0">0</tspan></text>
<rect x="643" y="367" width="1" height="1" fill="#000" shape-rendering="crispEdges"/>
<text fill="#000000" stroke="#000000" stroke-width="0.2" text-anchor="middle" transform="translate(646.3,396.4) rotate(-90)"><tspan class="s" x="2.42" y="0.0">1</tspan><tspan class="s" x="7.27" y="0.0">8</tspan><tspan class="m" x="12.12" y="0.0">:</tspan><tspan class="s" x="16.97" y="0.0">4</tspan><tspan class="s" x="21.82" y="0.0">5</tspan></text>
<rect x="656" y="367" width="1" height="1" fill="#000" shape-rendering="crispEdges"/>
<text fill="#000000" stroke="#000000" stroke-width="0.2" text-anchor="middle" transform="translate(659.3,396.4) rotate(-90)"><tspan class="s" x="2.42" y="0.0">1</tspan><tspan class="s" x="7.27" y="0.0">9</tspan><tspan class="m" x="12.12" y="0.0">:</tspan><tspan class="s" x="16.97" y="0.0">1</tspan><tspan class="s" x="21.82" y="0.0">0</tspan></text>
<rect x="669" y="367" width="1" height="1" fill="#000" shape-rendering="crispEdges"/>
<text fill="#000000" stroke="#000000" stroke-width="0.2" text-anchor="middle" transform="translate(672.3,396.4) rotate(-90)"><tspan class="s" x="2.42" y="0.0">1</tspan><tspan class="s" x="7.27" y="0.0">9</tspan><tspan class="m" x="12.12" y="0.0">:</tspan><tspan class="s" x="16.97" y="0.0">3</tspan><tspan class="s" x="21.82" y="0.0">5</tspan></text>
<rect x="683" y="367" width="1" height="1" fill="#000" shape-rendering="crispEdges"/>
<text fill="#000000" stroke="#000000" stroke-width="0.2" text-anchor="middle" transform="translate(686.3,396.4) rotate(-90)"><tspan class="s" x="2.42" y="0.0">2</tspan><tspan class="s" x="7.27" y="0.0">0</tspan><tspan class="m" x="12.12" y="0.0">:</tspan><tspan class="s" x="16.97" y="0.0">0</tspan><tspan class="s" x="21.82" y="0.0">0</tspan></text>
<rect x="696" y="367" width="1" height="1" fill="#000" shape-rendering="crispEdges"/>
<text fill="#000000" stroke="#000000" stroke-width="0.2" text-anchor="middle" transform="translate(699.3,396.4) rotate(-90)"><tspan class="s" x="2.42" y="0.0">2</tspan><tspan class="s" x="7.27" y="0.0">0</tspan><tspan class="m" x="12.12" y="0.0">:</tspan><tspan class="s" x="16.97" y="0.0">2</tspan><tspan class="s" x="21.82" y="0.0">5</tspan></text>
<rect x="709" y="367" width="1" height="1" fill="#000" shape-rendering="crispEdges"/>
<text fill="#000000" stroke="#000000" stroke-width="0.2" text-anchor="middle" transform="translate(712.3,396.4) rotate(-90)"><tspan class="s" x="2.42" y="0.0">2</tspan><tspan class="s" x="7.27" y="0.0">0</tspan><tspan class="m" x="12.12" y="0.0">:</tspan><tspan class="s" x="16.97" y="0.0">5</tspan><tspan class="s" x="21.82" y="0.0">0</tspan></text>
<rect x="723" y="367" width="1" height="1" fill="#000" shape-rendering="crispEdges"/>
<text fill="#000000" stroke="#000000" stroke-width="0.2" text-anchor="middle" transform="translate(726.3,396.4) rotate(-90)"><tspan class="s" x="2.42" y="0.0">2</tspan><tspan class="s" x="7.27" y="0.0">1</tspan><tspan class="m" x="12.12" y="0.0">:</tspan><tspan class="s" x="16.97" y="0.0">2</tspan><tspan class="s" x="21.82" y="0.0">0</tspan></text>
<rect x="736" y="367" width="1" height="1" fill="#000" shape-rendering="crispEdges"/>
<text fill="#000000" stroke="#000000" stroke-width="0.2" text-anchor="middle" transform="translate(739.3,396.4) rotate(-90)"><tspan class="s" x="2.42" y="0.0">2</tspan><tspan class="s" x="7.27" y="0.0">1</tspan><tspan class="m" x="12.12" y="0.0">:</tspan><tspan class="s" x="16.97" y="0.0">4</tspan><tspan class="s" x="21.82" y="0.0">5</tspan></text>
<rect x="749" y="367" width="1" height="1" fill="#000" shape-rendering="crispEdges"/>
<text fill="#000000" stroke="#000000" stroke-width="0.2" text-anchor="middle" transform="translate(752.3,396.4) rotate(-90)"><tspan class="s" x="2.42" y="0.0">2</tspan><tspan class="s" x="7.27" y="0.0">2</tspan><tspan class="m" x="12.12" y="0.0">:</tspan><tspan class="s" x="16.97" y="0.0">1</tspan><tspan class="s" x="21.82" y="0.0">0</tspan></text>
<rect x="763" y="367" width="1" height="1" fill="#000" shape-rendering="crispEdges"/>
<text fill="#000000" stroke="#000000" stroke-width="0.2" text-anchor="middle" transform="translate(766.3,396.4) rotate(-90)"><tspan class="s" x="2.42" y="0.0">2</tspan><tspan class="s" x="7.27" y="0.0">2</tspan><tspan class="m" x="12.12" y="0.0">:</tspan><tspan class="s" x="16.97" y="0.0">3</tspan><tspan class="s" x="21.82" y="0.0">5</tspan></text>
<rect x="776" y="367" width="1" height="1" fill="#000" shape-rendering="crispEdges"/>
<text fill="#000000" stroke="#000000" stroke-width="0.2" text-anchor="middle" transform="translate(779.3,396.4) rotate(-90)"><tspan class="s" x="2.42" y="0.0">2</tspan><tspan class="s" x="7.27" y="0.0">3</tspan><tspan class="m" x="12.12" y="0.0">:</tspan><tspan class="s" x="16.97" y="0.0">0</tspan><tspan class="s" x="21.82" y="0.0">0</tspan></text>
<rect x="789" y="367" width="1" height="1" fill="#000" shape-rendering="crispEdges"/>
<text fill="#000000" stroke="#000000" stroke-width="0.2" text-anchor="middle" transform="translate(792.3,396.4) rotate(-90)"><tspan class="s" x="2.42" y="0.0">2</tspan><tspan class="s" x="7.27" y="0.0">3</tspan><tspan class="m" x="12.12" y="0.0">:</tspan><tspan class="s" x="16.97" y="0.0">2</tspan><tspan class="s" x="21.82" y="0.0">5</tspan></text>
<rect x="803" y="367" width="1" height="1" fill="#000" shape-rendering="crispEdges"/>
<text fill="#000000" stroke="#000000" stroke-width="0.2" text-anchor="middle" transform="translate(806.3,396.4) rotate(-90)"><tspan class="s" x="2.42" y="0.0">2</tspan><tspan class="s" x="7.27" y="0.0">3</tspan><tspan class="m" x="12.12" y="0.0">:</tspan><tspan class="s" x="16.97" y="0.0">5</tspan><tspan class="s" x="21.82" y="0.0">0</tspan></text>
<g shape-rendering="crispEdges">
<rect x="28" y="40" width="1" height="328" fill="#228b22"/>
<rect x="26" y="365" width="4" height="1" fill="#228b22"/>
<rect x="26" y="345" width="4" height="1" fill="#228b22"/>
<rect x="26" y="326" width="4" height="1" fill="#228b22"/>
<rect x="26" y="306" width="4" height="1" fill="#228b22"/>
<rect x="26" y="287" width="4" height="1" fill="#228b22"/>
<rect x="26" y="268" width="4" height="1" fill="#228b22"/>
<rect x="26" y="248" width="4" height="1" fill="#228b22"/>
<rect x="26" y="229" width="4" height="1" fill="#228b22"/>
<rect x="26" y="210" width="4" height="1" fill="#228b22"/>
<rect x="26" y="190" width="4" height="1" fill="#228b22"/>
<rect x="26" y="171" width="4" height="1" fill="#228b22"/>
<rect x="26" y="151" width="4" height="1" fill="#228b22"/>
<rect x="26" y="132" width="4" height="1" fill="#228b22"/>
<rect x="26" y="113" width="4" height="1" fill="#228b22"/>
<rect x="26" y="93" width="4" height="1" fill="#228b22"/>
<rect x="26" y="74" width="4" height="1" fill="#228b22"/>
<rect x="26" y="55" width="4" height="1" fill="#228b22"/>
<rect x="50" y="40" width="1" height="328" fill="#8a00d4"/>
<rect x="48" y="365" width="4" height="1" fill="#8a00d4"/>
<rect x="48" y="334" width="4" height="1" fill="#8a00d4"/>
<rect x="48" y="303" width="4" height="1" fill="#8a00d4"/>
<rect x="48" y="272" width="4" height="1" fill="#8a00d4"/>
<rect x="48" y="241" width="4" height="1" fill="#8a00d4"/>
<rect x="48" y="210" width="4" height="1" fill="#8a00d4"/>
<rect x="48" y="179" width="4" height="1" fill="#8a00d4"/>
<rect x="48" y="148" width="4" height="1" fill="#8a00d4"/>
<rect x="48" y="117" width="4" height="1" fill="#8a00d4"/>
<rect x="48" y="86" width="4" height="1" fill="#8a00d4"/>
<rect x="48" y="55" width="4" height="1" fill="#8a00d4"/>
<rect x="70" y="40" width="1" height="326" fill="#ff0000"/>
<rect x="68" y="54" width="4" height="1" fill="#ff0000"/>
<rect x="68" y="80" width="4" height="1" fill="#ff0000"/>
<rect x="68" y="106" width="4" height="1" fill="#ff0000"/>
<rect x="68" y="132" width="4" height="1" fill="#ff0000"/>
<rect x="68" y="158" width="4" height="1" fill="#ff0000"/>
<rect x="68" y="184" width="4" height="1" fill="#ff0000"/>
<rect x="68" y="209" width="4" height="1" fill="#ff0000"/>
<rect x="68" y="235" width="4" height="1" fill="#ff0000"/>
<rect x="68" y="261" width="4" height="1" fill="#ff0000"/>
<rect x="68" y="274" width="4" height="1" fill="#ff0000"/>
<rect x="68" y="287" width="4" height="1" fill="#ff0000"/>
<rect x="68" y="313" width="4" height="1" fill="#ff0000"/>
<rect x="68" y="339" width="4" height="1" fill="#ff0000"/>
<rect x="68" y="365" width="4" height="1" fill="#ff0000"/>
<rect x="805" y="40" width="1" height="326" fill="#808080"/>
<rect x="805" y="326" width="3" height="1" fill="#808080"/>
<rect x="805" y="287" width="3" height="1" fill="#808080"/>
<rect x="805" y="248" width="3" height="1" fill="#808080"/>
<rect x="805" y="210" width="3" height="1" fill="#808080"/>
<rect x="805" y="171" width="3" height="1" fill="#808080"/>
<rect x="805" y="132" width="3" height="1" fill="#808080"/>
<rect x="805" y="93" width="3" height="1" fill="#808080"/>
<rect x="805" y="55" width="3" height="1" fill="#808080"/>
<rect x="825" y="40" width="1" height="328" fill="#000000"/>
<rect x="822" y="365" width="4" height="1" fill="#000000"/>
<rect x="822" y="326" width="4" height="1" fill="#000000"/>
<rect x="822" y="287" width="4" height="1" fill="#000000"/>
<rect x="822" y="248" width="4" height="1" fill="#000000"/>
<rect x="822" y="210" width="4" height="1" fill="#000000"/>
<rect x="822" y="171" width="4" height="1" fill="#000000"/>
<rect x="822" y="132" width="4" height="1" fill="#000000"/>
<rect x="822" y="93" width="4" height="1" fill="#000000"/>
<rect x="822" y="55" width="4" height="1" fill="#000000"/>
<rect x="845" y="40" width="1" height="328" fill="#00aaff"/>
<rect x="843" y="365" width="5" height="1" fill="#00aaff"/>
<rect x="843" y="55" width="5" height="1" fill="#00aaff"/>
<rect x="860" y="40" width="1" height="328" fill="#ffff00"/>
<rect x="858" y="365" width="5" height="1" fill="#ffff00"/>
<rect x="858" y="303" width="5" height="1" fill="#ffff00"/>
<rect x="858" y="241" width="5" height="1" fill="#ffff00"/>
<rect x="858" y="179" width="5" height="1" fill="#ffff00"/>
<rect x="858" y="117" width="5" height="1" fill="#ffff00"/>
<rect x="858" y="55" width="5" height="1" fill="#ffff00"/>
<rect x="875" y="40" width="1" height="328" fill="#ff8000"/>
<rect x="873" y="365" width="5" height="1" fill="#ff8000"/>
<rect x="873" y="349" width="5" height="1" fill="#ff8000"/>
<rect x="873" y="334" width="5" height="1" fill="#ff8000"/>
<rect x="873" y="318" width="5" height="1" fill="#ff8000"/>
<rect x="873" y="303" width="5" height="1" fill="#ff8000"/>
<rect x="873" y="287" width="5" height="1" fill="#ff8000"/>
<rect x="873" y="272" width="5" height="1" fill="#ff8000"/>
<rect x="873" y="256" width="5" height="1" fill="#ff8000"/>
<rect x="873" y="241" width="5" height="1" fill="#ff8000"/>
<rect x="873" y="225" width="5" height="1" fill="#ff8000"/>
<rect x="873" y="210" width="5" height="1" fill="#ff8000"/>
</g>
<rect x="71" y="365" width="735" height="1" fill="#000" shape-rendering="crispEdges"/>
<text fill="#228b22" stroke="#228b22" stroke-width="0.3" text-anchor="middle"><tspan class="s" x="6.00" y="368.1">1</tspan><tspan class="s" x="11.00" y="368.1">0</tspan><tspan class="s" x="16.00" y="368.1">1</tspan><tspan class="s" x="21.00" y="368.1">4</tspan></text>
<text fill="#228b22" stroke="#228b22" stroke-width="0.3" text-anchor="middle"><tspan class="s" x="6.00" y="348.1">1</tspan><tspan class="s" x="11.00" y="348.1">0</tspan><tspan class="s" x="16.00" y="348.1">1</tspan><tspan class="s" x="21.00" y="348.1">5</tspan></text>
<text fill="#228b22" stroke="#228b22" stroke-width="0.3" text-anchor="middle"><tspan class="s" x="6.00" y="329.1">1</tspan><tspan class="s" x="11.00" y="329.1">0</tspan><tspan class="s" x="16.00" y="329.1">1</tspan><tspan class="s" x="21.00" y="329.1">6</tspan></text>
<text fill="#228b22" stroke="#228b22" stroke-width="0.3" text-anchor="middle"><tspan class="s" x="6.00" y="309.1">1</tspan><tspan class="s" x="11.00" y="309.1">0</tspan><tspan class="s" x="16.00" y="309.1">1</tspan><tspan class="s" x="21.00" y="309.1">7</tspan></text>
<text fill="#228b22" stroke="#228b22" stroke-width="0.3" text-anchor="middle"><tspan class="s" x="6.00" y="290.1">1</tspan><tspan class="s" x="11.00" y="290.1">0</tspan><tspan class="s" x="16.00" y="290.1">1</tspan><tspan class="s" x="21.00" y="290.1">8</tspan></text>
<text fill="#228b22" stroke="#228b22" stroke-width="0.3" text-anchor="middle"><tspan class="s" x="6.00" y="271.1">1</tspan><tspan class="s" x="11.00" y="271.1">0</tspan><tspan class="s" x="16.00" y="271.1">1</tspan><tspan class="s" x="21.00" y="271.1">9</tspan></text>
<text fill="#228b22" stroke="#228b22" stroke-width="0.3" text-anchor="middle"><tspan class="s" x="6.00" y="251.1">1</tspan><tspan class="s" x="11.00" y="251.1">0</tspan><tspan class="s" x="16.00" y="251.1">2</tspan><tspan class="s" x="21.00" y="251.1">0</tspan></text>
<text fill="#228b22" stroke="#228b22" stroke-width="0.3" text-anchor="middle"><tspan class="s" x="6.00" y="232.1">1</tspan><tspan class="s" x="11.00" y="232.1">0</tspan><tspan class="s" x="16.00" y="232.1">2</tspan><tspan class="s" x="21.00" y="232.1">1</tspan></text>
<text fill="#228b22" stroke="#228b22" stroke-width="0.3" text-anchor="middle"><tspan class="s" x="6.00" y="213.1">1</tspan><tspan class="s" x="11.00" y="213.1">0</tspan><tspan class="s" x="16.00" y="213.1">2</tspan><tspan class="s" x="21.00" y="213.1">2</tspan></text>
<text fill="#228b22" stroke="#228b22" stroke-width="0.3" text-anchor="middle"><tspan class="s" x="6.00" y="193.1">1</tspan><tspan class="s" x="11.00" y="193.1">0</tspan><tspan class="s" x="16.00" y="193.1">2</tspan><tspan class="s" x="21.00" y="193.1">3</tspan></text>
<text fill="#228b22" stroke="#228b22" stroke-width="0.3" text-anchor="middle"><tspan class="s" x="6.00" y="174.1">1</tspan><tspan class="s" x="11.00" y="174.1">0</tspan><tspan class="s" x="16.00" y="174.1">2</tspan><tspan class="s" x="21.00" y="174.1">4</tspan></text>
<text fill="#228b22" stroke="#228b22" stroke-width="0.3" text-anchor="middle"><tspan class="s" x="6.00" y="154.1">1</tspan><tspan class="s" x="11.00" y="154.1">0</tspan><tspan class="s" x="16.00" y="154.1">2</tspan><tspan class="s" x="21.00" y="154.1">5</tspan></text>
<text fill="#228b22" stroke="#228b22" stroke-width="0.3" text-anchor="middle"><tspan class="s" x="6.00" y="135.1">1</tspan><tspan class="s" x="11.00" y="135.1">0</tspan><tspan class="s" x="16.00" y="135.1">2</tspan><tspan class="s" x="21.00" y="135.1">6</tspan></text>
<text fill="#228b22" stroke="#228b22" stroke-width="0.3" text-anchor="middle"><tspan class="s" x="6.00" y="116.1">1</tspan><tspan class="s" x="11.00" y="116.1">0</tspan><tspan class="s" x="16.00" y="116.1">2</tspan><tspan class="s" x="21.00" y="116.1">7</tspan></text>
<text fill="#228b22" stroke="#228b22" stroke-width="0.3" text-anchor="middle"><tspan class="s" x="6.00" y="96.1">1</tspan><tspan class="s" x="11.00" y="96.1">0</tspan><tspan class="s" x="16.00" y="96.1">2</tspan><tspan class="s" x="21.00" y="96.1">8</tspan></text>
<text fill="#228b22" stroke="#228b22" stroke-width="0.3" text-anchor="middle"><tspan class="s" x="6.00" y="77.1">1</tspan><tspan class="s" x="11.00" y="77.1">0</tspan><tspan class="s" x="16.00" y="77.1">2</tspan><tspan class="s" x="21.00" y="77.1">9</tspan></text>
<text fill="#228b22" stroke="#228b22" stroke-width="0.3" text-anchor="middle"><tspan class="s" x="6.00" y="58.1">1</tspan><tspan class="s" x="11.00" y="58.1">0</tspan><tspan class="s" x="16.00" y="58.1">3</tspan><tspan class="s" x="21.00" y="58.1">0</tspan></text>
<text fill="#8a00d4" stroke="#8a00d4" stroke-width="0.3" text-anchor="middle"><tspan class="s" x="43.00" y="368.1">0</tspan></text>
<text fill="#8a00d4" stroke="#8a00d4" stroke-width="0.3" text-anchor="middle"><tspan class="s" x="38.00" y="337.1">1</tspan><tspan class="s" x="43.00" y="337.1">0</tspan></text>
<text fill="#8a00d4" stroke="#8a00d4" stroke-width="0.3" text-anchor="middle"><tspan class="s" x="38.00" y="306.1">2</tspan><tspan class="s" x="43.00" y="306.1">0</tspan></text>
<text fill="#8a00d4" stroke="#8a00d4" stroke-width="0.3" text-anchor="middle"><tspan class="s" x="38.00" y="275.1">3</tspan><tspan class="s" x="43.00" y="275.1">0</tspan></text>
<text fill="#8a00d4" stroke="#8a00d4" stroke-width="0.3" text-anchor="middle"><tspan class="s" x="38.00" y="244.1">4</tspan><tspan class="s" x="43.00" y="244.1">0</tspan></text>
<text fill="#8a00d4" stroke="#8a00d4" stroke-width="0.3" text-anchor="middle"><tspan class="s" x="38.00" y="213.1">5</tspan><tspan class="s" x="43.00" y="213.1">0</tspan></text>
<text fill="#8a00d4" stroke="#8a00d4" stroke-width="0.3" text-anchor="middle"><tspan class="s" x="38.00" y="182.1">6</tspan><tspan class="s" x="43.00" y="182.1">0</tspan></text>
<text fill="#8a00d4" stroke="#8a00d4" stroke-width="0.3" text-anchor="middle"><tspan class="s" x="38.00" y="151.1">7</tspan><tspan class="s" x="43.00" y="151.1">0</tspan></text>
<text fill="#8a00d4" stroke="#8a00d4" stroke-width="0.3" text-anchor="middle"><tspan class="s" x="38.00" y="120.1">8</tspan><tspan class="s" x="43.00" y="120.1">0</tspan></text>
<text fill="#8a00d4" stroke="#8a00d4" stroke-width="0.3" text-anchor="middle"><tspan class="s" x="38.00" y="89.1">9</tspan><tspan class="s" x="43.00" y="89.1">0</tspan></text>
<text fill="#8a00d4" stroke="#8a00d4" stroke-width="0.3" text-anchor="middle"><tspan class="s" x="33.00" y="58.1">1</tspan><tspan class="s" x="38.00" y="58.1">0</tspan><tspan class="s" x="43.00" y="58.1">0</tspan></text>
<text fill="#ff0000" stroke="#ff0000" stroke-width="0.3" text-anchor="middle"><tspan class="s" x="59.50" y="57.1">1</tspan><tspan class="s" x="64.50" y="57.1">7</tspan></text>
<text fill="#ff0000" stroke="#ff0000" stroke-width="0.3" text-anchor="middle"><tspan class="s" x="59.50" y="83.1">1</tspan><tspan class="s" x="64.50" y="83.1">5</tspan></text>
<text fill="#ff0000" stroke="#ff0000" stroke-width="0.3" text-anchor="middle"><tspan class="s" x="59.50" y="109.1">1</tspan><tspan class="s" x="64.50" y="109.1">3</tspan></text>
<text fill="#ff0000" stroke="#ff0000" stroke-width="0.3" text-anchor="middle"><tspan class="s" x="59.50" y="135.1">1</tspan><tspan class="s" x="64.50" y="135.1">1</tspan></text>
<text fill="#ff0000" stroke="#ff0000" stroke-width="0.3" text-anchor="middle"><tspan class="s" x="64.50" y="161.1">9</tspan></text>
<text fill="#ff0000" stroke="#ff0000" stroke-width="0.3" text-anchor="middle"><tspan class="s" x="64.50" y="187.1">7</tspan></text>
<text fill="#ff0000" stroke="#ff0000" stroke-width="0.3" text-anchor="middle"><tspan class="s" x="64.50" y="212.1">5</tspan></text>
<text fill="#ff0000" stroke="#ff0000" stroke-width="0.3" text-anchor="middle"><tspan class="s" x="64.50" y="238.1">3</tspan></text>
<text fill="#ff0000" stroke="#ff0000" stroke-width="0.3" text-anchor="middle"><tspan class="s" x="64.50" y="264.1">1</tspan></text>
<text fill="#ff0000" stroke="#ff0000" stroke-width="0.3" text-anchor="middle"><tspan class="s" x="64.50" y="277.1">0</tspan></text>
<text fill="#ff0000" stroke="#ff0000" stroke-width="0.3" text-anchor="middle"><tspan class="m" x="59.50" y="290.1">-</tspan><tspan class="s" x="64.50" y="290.1">1</tspan></text>
<text fill="#ff0000" stroke="#ff0000" stroke-width="0.3" text-anchor="middle"><tspan class="m" x="59.50" y="316.1">-</tspan><tspan class="s" x="64.50" y="316.1">3</tspan></text>
<text fill="#ff0000" stroke="#ff0000" stroke-width="0.3" text-anchor="middle"><tspan class="m" x="59.50" y="342.1">-</tspan><tspan class="s" x="64.50" y="342.1">5</tspan></text>
<text fill="#ff0000" stroke="#ff0000" stroke-width="0.3" text-anchor="middle"><tspan class="m" x="59.50" y="368.1">-</tspan><tspan class="s" x="64.50" y="368.1">7</tspan></text>
<text fill="#6a6a6a" stroke="#6a6a6a" stroke-width="0.3" text-anchor="middle"><tspan class="s" x="810.00" y="329.1">4</tspan><tspan class="s" x="815.00" y="329.1">5</tspan></text>
<text fill="#6a6a6a" stroke="#6a6a6a" stroke-width="0.3" text-anchor="middle"><tspan class="m" x="810.00" y="337.0">N</tspan><tspan class="m" x="815.00" y="337.0">E</tspan></text>
<text fill="#6a6a6a" stroke="#6a6a6a" stroke-width="0.3" text-anchor="middle"><tspan class="s" x="810.00" y="290.1">9</tspan><tspan class="s" x="815.00" y="290.1">0</tspan></text>
<text fill="#6a6a6a" stroke="#6a6a6a" stroke-width="0.3" text-anchor="middle"><tspan class="m" x="815.00" y="298.0">E</tspan></text>
<text fill="#6a6a6a" stroke="#6a6a6a" stroke-width="0.3" text-anchor="middle"><tspan class="s" x="810.00" y="251.1">1</tspan><tspan class="s" x="815.00" y="251.1">3</tspan><tspan class="s" x="820.00" y="251.1">5</tspan></text>
<text fill="#6a6a6a" stroke="#6a6a6a" stroke-width="0.3" text-anchor="middle"><tspan class="m" x="810.00" y="259.0">S</tspan><tspan class="m" x="815.00" y="259.0">E</tspan></text>
<text fill="#6a6a6a" stroke="#6a6a6a" stroke-width="0.3" text-anchor="middle"><tspan class="s" x="810.00" y="213.1">1</tspan><tspan class="s" x="815.00" y="213.1">8</tspan><tspan class="s" x="820.00" y="213.1">0</tspan></text>
<text fill="#6a6a6a" stroke="#6a6a6a" stroke-width="0.3" text-anchor="middle"><tspan class="m" x="815.00" y="221.0">S</tspan></text>
<text fill="#6a6a6a" stroke="#6a6a6a" stroke-width="0.3" text-anchor="middle"><tspan class="s" x="810.00" y="174.1">2</tspan><tspan class="s" x="815.00" y="174.1">2</tspan><tspan class="s" x="820.00" y="174.1">5</tspan></text>
<text fill="#6a6a6a" stroke="#6a6a6a" stroke-width="0.3" text-anchor="middle"><tspan class="m" x="810.00" y="182.0">S</tspan><tspan class="m" x="815.00" y="182.0">W</tspan></text>
<text fill="#6a6a6a" stroke="#6a6a6a" stroke-width="0.3" text-anchor="middle"><tspan class="s" x="810.00" y="135.1">2</tspan><tspan class="s" x="815.00" y="135.1">7</tspan><tspan class="s" x="820.00" y="135.1">0</tspan></text>
<text fill="#6a6a6a" stroke="#6a6a6a" stroke-width="0.3" text-anchor="middle"><tspan class="m" x="815.00" y="143.0">W</tspan></text>
<text fill="#6a6a6a" stroke="#6a6a6a" stroke-width="0.3" text-anchor="middle"><tspan class="s" x="810.00" y="96.1">3</tspan><tspan class="s" x="815.00" y="96.1">1</tspan><tspan class="s" x="820.00" y="96.1">5</tspan></text>
<text fill="#6a6a6a" stroke="#6a6a6a" stroke-width="0.3" text-anchor="middle"><tspan class="m" x="810.00" y="104.0">N</tspan><tspan class="m" x="815.00" y="104.0">W</tspan></text>
<text fill="#6a6a6a" stroke="#6a6a6a" stroke-width="0.3" text-anchor="middle"><tspan class="s" x="810.00" y="58.1">3</tspan><tspan class="s" x="815.00" y="58.1">6</tspan><tspan class="s" x="820.00" y="58.1">0</tspan></text>
<text fill="#6a6a6a" stroke="#6a6a6a" stroke-width="0.3" text-anchor="middle"><tspan class="m" x="815.00" y="66.0">N</tspan></text>
<text fill="#000000" stroke="#000000" stroke-width="0.3" text-anchor="middle"><tspan class="s" x="829.50" y="368.1">0</tspan></text>
<text fill="#000000" stroke="#000000" stroke-width="0.3" text-anchor="middle"><tspan class="s" x="829.50" y="329.1">1</tspan></text>
<text fill="#000000" stroke="#000000" stroke-width="0.3" text-anchor="middle"><tspan class="s" x="829.50" y="290.1">2</tspan></text>
<text fill="#000000" stroke="#000000" stroke-width="0.3" text-anchor="middle"><tspan class="s" x="829.50" y="251.1">3</tspan></text>
<text fill="#000000" stroke="#000000" stroke-width="0.3" text-anchor="middle"><tspan class="s" x="829.50" y="213.1">4</tspan></text>
<text fill="#000000" stroke="#000000" stroke-width="0.3" text-anchor="middle"><tspan class="s" x="829.50" y="174.1">5</tspan></text>
<text fill="#000000" stroke="#000000" stroke-width="0.3" text-anchor="middle"><tspan class="s" x="829.50" y="135.1">6</tspan></text>
<text fill="#000000" stroke="#000000" stroke-width="0.3" text-anchor="middle"><tspan class="s" x="829.50" y="96.1">7</tspan></text>
<text fill="#000000" stroke="#000000" stroke-width="0.3" text-anchor="middle"><tspan class="s" x="829.50" y="58.1">8</tspan></text>
<text fill="#00aaff" stroke="#00aaff" stroke-width="0.3" text-anchor="middle"><tspan class="s" x="850.50" y="368.1">0</tspan></text>
<text fill="#00aaff" stroke="#00aaff" stroke-width="0.3" text-anchor="middle"><tspan class="s" x="850.50" y="58.1">1</tspan></text>
<text fill="#ffff00" stroke="#ffff00" stroke-width="0.3" text-anchor="middle"><tspan class="s" x="865.50" y="368.1">0</tspan></text>
<text fill="#ffff00" stroke="#ffff00" stroke-width="0.3" text-anchor="middle"><tspan class="s" x="865.50" y="306.1">1</tspan></text>
<text fill="#ffff00" stroke="#ffff00" stroke-width="0.3" text-anchor="middle"><tspan class="s" x="865.50" y="244.1">2</tspan></text>
<text fill="#ffff00" stroke="#ffff00" stroke-width="0.3" text-anchor="middle"><tspan class="s" x="865.50" y="182.1">3</tspan></text>
<text fill="#ffff00" stroke="#ffff00" stroke-width="0.3" text-anchor="middle"><tspan class="s" x="865.50" y="120.1">4</tspan></text>
<text fill="#ffff00" stroke="#ffff00" stroke-width="0.3" text-anchor="middle"><tspan class="s" x="865.50" y="58.1">5</tspan></text>
<text fill="#ff8000" stroke="#ff8000" stroke-width="0.3" text-anchor="middle"><tspan class="s" x="880.50" y="368.1">0</tspan></text>
<text fill="#ff8000" stroke="#ff8000" stroke-width="0.3" text-anchor="middle"><tspan class="s" x="880.50" y="352.1">1</tspan><tspan class="s" x="885.50" y="352.1">5</tspan><tspan class="s" x="890.50" y="352.1">0</tspan></text>
<text fill="#ff8000" stroke="#ff8000" stroke-width="0.3" text-anchor="middle"><tspan class="s" x="880.50" y="337.1">3</tspan><tspan class="s" x="885.50" y="337.1">0</tspan><tspan class="s" x="890.50" y="337.1">0</tspan></text>
<text fill="#ff8000" stroke="#ff8000" stroke-width="0.3" text-anchor="middle"><tspan class="s" x="880.50" y="321.1">4</tspan><tspan class="s" x="885.50" y="321.1">5</tspan><tspan class="s" x="890.50" y="321.1">0</tspan></text>
<text fill="#ff8000" stroke="#ff8000" stroke-width="0.3" text-anchor="middle"><tspan class="s" x="880.50" y="306.1">6</tspan><tspan class="s" x="885.50" y="306.1">0</tspan><tspan class="s" x="890.50" y="306.1">0</tspan></text>
<text fill="#ff8000" stroke="#ff8000" stroke-width="0.3" text-anchor="middle"><tspan class="s" x="880.50" y="290.1">7</tspan><tspan class="s" x="885.50" y="290.1">5</tspan><tspan class="s" x="890.50" y="290.1">0</tspan></text>
<text fill="#ff8000" stroke="#ff8000" stroke-width="0.3" text-anchor="middle"><tspan class="s" x="880.50" y="275.1">9</tspan><tspan class="s" x="885.50" y="275.1">0</tspan><tspan class="s" x="890.50" y="275.1">0</tspan></text>
<text fill="#ff8000" stroke="#ff8000" stroke-width="0.3" text-anchor="middle"><tspan class="s" x="880.50" y="259.1">1</tspan><tspan class="s" x="885.50" y="259.1">0</tspan><tspan class="s" x="890.50" y="259.1">5</tspan><tspan class="s" x="895.50" y="259.1">0</tspan></text>
<text fill="#ff8000" stroke="#ff8000" stroke-width="0.3" text-anchor="middle"><tspan class="s" x="880.50" y="244.1">1</tspan><tspan class="s" x="885.50" y="244.1">2</tspan><tspan class="s" x="890.50" y="244.1">0</tspan><tspan class="s" x="895.50" y="244.1">0</tspan></text>
<text fill="#ff8000" stroke="#ff8000" stroke-width="0.3" text-anchor="middle"><tspan class="s" x="880.50" y="228.1">1</tspan><tspan class="s" x="885.50" y="228.1">3</tspan><tspan class="s" x="890.50" y="228.1">5</tspan><tspan class="s" x="895.50" y="228.1">0</tspan></text>
<text fill="#ff8000" stroke="#ff8000" stroke-width="0.3" text-anchor="middle"><tspan class="s" x="880.50" y="213.1">1</tspan><tspan class="s" x="885.50" y="213.1">5</tspan><tspan class="s" x="890.50" y="213.1">0</tspan><tspan class="s" x="895.50" y="213.1">0</tspan></text>
<text fill="#228b22" stroke="#228b22" stroke-width="0.3" text-anchor="middle"><tspan class="m" x="8.00" y="47.0">h</tspan><tspan class="m" x="13.00" y="47.0">P</tspan><tspan class="m" x="18.00" y="47.0">a</tspan></text>
<text fill="#8a00d4" stroke="#8a00d4" stroke-width="0.3" text-anchor="middle"><tspan class="m" x="42.00" y="47.0">%</tspan></text>
<text fill="#ff0000" stroke="#ff0000" stroke-width="0.3" text-anchor="middle"><tspan class="d" x="60.00" y="47.9">°</tspan><tspan class="m" x="65.00" y="47.0">C</tspan></text>
<text fill="#808080" stroke="#808080" stroke-width="0.3" text-anchor="middle"><tspan class="d" x="810.50" y="47.9">°</tspan></text>
<text fill="#000000" stroke="#000000" stroke-width="0.3" text-anchor="middle"><tspan class="m" x="830.00" y="47.0">m</tspan><tspan class="m" x="835.00" y="47.0">/</tspan><tspan class="m" x="840.00" y="47.0">s</tspan></text>
<text fill="#00aaff" stroke="#00aaff" stroke-width="0.3" text-anchor="middle"><tspan class="m" x="850.00" y="47.0">m</tspan><tspan class="m" x="855.00" y="47.0">m</tspan></text>
<text fill="#ff8000" stroke="#ff8000" stroke-width="0.3" text-anchor="middle"><tspan class="m" x="880.00" y="47.0">W</tspan></text>
<text fill="#000000" stroke="#000000" stroke-width="0.3" text-anchor="middle"><tspan class="m" x="817.00" y="377.0">č</tspan><tspan class="m" x="822.00" y="377.0">a</tspan><tspan class="m" x="827.00" y="377.0">s</tspan></text>
<rect x="10" y="9" width="11" height="2" fill="#ff0000" shape-rendering="crispEdges"/>
<text fill="#000000" stroke="#000000" stroke-width="0.3" text-anchor="middle"><tspan class="m" x="27.00" y="12.0">T</tspan><tspan class="m" x="32.00" y="12.0">e</tspan><tspan class="m" x="37.00" y="12.0">p</tspan><tspan class="m" x="42.00" y="12.0">l</tspan><tspan class="m" x="47.00" y="12.0">o</tspan><tspan class="m" x="52.00" y="12.0">t</tspan><tspan class="m" x="57.00" y="12.0">a</tspan></text>
<rect x="70" y="9" width="11" height="2" fill="#ff00ff" shape-rendering="crispEdges"/>
<text fill="#000000" stroke="#000000" stroke-width="0.3" text-anchor="middle"><tspan class="m" x="87.00" y="12.0">P</tspan><tspan class="m" x="92.00" y="12.0">ř</tspan><tspan class="m" x="97.00" y="12.0">í</tspan><tspan class="m" x="102.00" y="12.0">z</tspan><tspan class="m" x="107.00" y="12.0">e</tspan><tspan class="m" x="112.00" y="12.0">m</tspan><tspan class="m" x="117.00" y="12.0">n</tspan><tspan class="m" x="122.00" y="12.0">í</tspan><tspan class="m" x="127.00" y="12.0"> </tspan><tspan class="m" x="132.00" y="12.0">t</tspan><tspan class="m" x="137.00" y="12.0">e</tspan><tspan class="m" x="142.00" y="12.0">p</tspan><tspan class="m" x="147.00" y="12.0">l</tspan><tspan class="m" x="152.00" y="12.0">o</tspan><tspan class="m" x="157.00" y="12.0">t</tspan><tspan class="m" x="162.00" y="12.0">a</tspan></text>
<rect x="175" y="9" width="11" height="2" fill="#8a00d4" shape-rendering="crispEdges"/>
<text fill="#000000" stroke="#000000" stroke-width="0.3" text-anchor="middle"><tspan class="m" x="192.00" y="12.0">V</tspan><tspan class="m" x="197.00" y="12.0">l</tspan><tspan class="m" x="202.00" y="12.0">h</tspan><tspan class="m" x="207.00" y="12.0">k</tspan><tspan class="m" x="212.00" y="12.0">o</tspan><tspan class="m" x="217.00" y="12.0">s</tspan><tspan class="m" x="222.00" y="12.0">t</tspan></text>
<rect x="235" y="9" width="11" height="2" fill="#228b22" shape-rendering="crispEdges"/>
<text fill="#000000" stroke="#000000" stroke-width="0.3" text-anchor="middle"><tspan class="m" x="252.00" y="12.0">T</tspan><tspan class="m" x="257.00" y="12.0">l</tspan><tspan class="m" x="262.00" y="12.0">a</tspan><tspan class="m" x="267.00" y="12.0">k</tspan></text>
<rect x="280" y="9" width="11" height="2" fill="#00aaff" shape-rendering="crispEdges"/>
<text fill="#000000" stroke="#000000" stroke-width="0.3" text-anchor="middle"><tspan class="m" x="297.00" y="12.0">S</tspan><tspan class="m" x="302.00" y="12.0">r</tspan><tspan class="m" x="307.00" y="12.0">á</tspan><tspan class="m" x="312.00" y="12.0">ž</tspan><tspan class="m" x="317.00" y="12.0">k</tspan><tspan class="m" x="322.00" y="12.0">y</tspan></text>
<rect x="335" y="9" width="11" height="2" fill="#000000" shape-rendering="crispEdges"/>
<text fill="#000000" stroke="#000000" stroke-width="0.3" text-anchor="middle"><tspan class="m" x="352.00" y="12.0">R</tspan><tspan class="m" x="357.00" y="12.0">y</tspan><tspan class="m" x="362.00" y="12.0">c</tspan><tspan class="m" x="367.00" y="12.0">h</tspan><tspan class="m" x="372.00" y="12.0">l</tspan><tspan class="m" x="377.00" y="12.0">o</tspan><tspan class="m" x="382.00" y="12.0">s</tspan><tspan class="m" x="387.00" y="12.0">t</tspan><tspan class="m" x="392.00" y="12.0"> </tspan><tspan class="m" x="397.00" y="12.0">v</tspan><tspan class="m" x="402.00" y="12.0">ě</tspan><tspan class="m" x="407.00" y="12.0">t</tspan><tspan class="m" x="412.00" y="12.0">r</tspan><tspan class="m" x="417.00" y="12.0">u</tspan></text>
<rect x="430" y="9" width="11" height="2" fill="#0000cd" shape-rendering="crispEdges"/>
<text fill="#000000" stroke="#000000" stroke-width="0.3" text-anchor="middle"><tspan class="m" x="447.00" y="12.0">N</tspan><tspan class="m" x="452.00" y="12.0">á</tspan><tspan class="m" x="457.00" y="12.0">r</tspan><tspan class="m" x="462.00" y="12.0">a</tspan><tspan class="m" x="467.00" y="12.0">z</tspan><tspan class="m" x="472.00" y="12.0"> </tspan><tspan class="m" x="477.00" y="12.0">v</tspan><tspan class="m" x="482.00" y="12.0">ě</tspan><tspan class="m" x="487.00" y="12.0">t</tspan><tspan class="m" x="492.00" y="12.0">r</tspan><tspan class="m" x="497.00" y="12.0">u</tspan></text>
<rect x="510" y="9" width="11" height="2" fill="#696969" shape-rendering="crispEdges"/>
<text fill="#000000" stroke="#000000" stroke-width="0.3" text-anchor="middle"><tspan class="m" x="527.00" y="12.0">S</tspan><tspan class="m" x="532.00" y="12.0">m</tspan><tspan class="m" x="537.00" y="12.0">ě</tspan><tspan class="m" x="542.00" y="12.0">r</tspan><tspan class="m" x="547.00" y="12.0"> </tspan><tspan class="m" x="552.00" y="12.0">v</tspan><tspan class="m" x="557.00" y="12.0">ě</tspan><tspan class="m" x="562.00" y="12.0">t</tspan><tspan class="m" x="567.00" y="12.0">r</tspan><tspan class="m" x="572.00" y="12.0">u</tspan></text>
<rect x="585" y="9" width="11" height="2" fill="#ffff00" shape-rendering="crispEdges"/>
<text fill="#ffff00" stroke="#ffff00" stroke-width="0.3" text-anchor="middle"><tspan class="m" x="602.00" y="12.0">U</tspan><tspan class="m" x="607.00" y="12.0">V</tspan><tspan class="m" x="612.00" y="12.0"> </tspan><tspan class="m" x="617.00" y="12.0">i</tspan><tspan class="m" x="622.00" y="12.0">n</tspan><tspan class="m" x="627.00" y="12.0">d</tspan><tspan class="m" x="632.00" y="12.0">e</tspan><tspan class="m" x="637.00" y="12.0">x</tspan></text>
<rect x="650" y="9" width="11" height="2" fill="#ff8000" shape-rendering="crispEdges"/>
<text fill="#ff8000" stroke="#ff8000" stroke-width="0.3" text-anchor="middle"><tspan class="m" x="667.00" y="12.0">S</tspan><tspan class="m" x="672.00" y="12.0">o</tspan><tspan class="m" x="677.00" y="12.0">l</tspan><tspan class="m" x="682.00" y="12.0">a</tspan><tspan class="m" x="687.00" y="12.0">r</tspan></text>
<text fill="#000000" stroke="#000000" stroke-width="0.3" text-anchor="middle"><tspan class="m" x="82.00" y="27.0">m</tspan><tspan class="m" x="87.00" y="27.0">a</tspan><tspan class="m" x="92.00" y="27.0">x</tspan></text>
<text fill="#ff0000" stroke="#ff0000" stroke-width="0.3" text-anchor="middle"><tspan class="s" x="102.00" y="27.0">1</tspan><tspan class="s" x="107.00" y="27.0">2</tspan><tspan class="m" x="112.00" y="27.0">.</tspan><tspan class="s" x="117.00" y="27.0">1</tspan><tspan class="d" x="122.00" y="27.9">°</tspan><tspan class="m" x="127.00" y="27.0">C</tspan></text>
<text fill="#ff0000" stroke="#ff0000" stroke-width="0.3" text-anchor="middle"><tspan class="s" x="142.00" y="27.0">9</tspan><tspan class="s" x="147.00" y="27.0">7</tspan><tspan class="m" x="152.00" y="27.0">%</tspan></text>
<text fill="#ff0000" stroke="#ff0000" stroke-width="0.3" text-anchor="middle"><tspan class="s" x="167.00" y="27.0">1</tspan><tspan class="s" x="172.00" y="27.0">0</tspan><tspan class="s" x="177.00" y="27.0">2</tspan><tspan class="s" x="182.00" y="27.0">3</tspan><tspan class="m" x="187.00" y="27.0">.</tspan><tspan class="s" x="192.00" y="27.0">7</tspan><tspan class="m" x="197.00" y="27.0">h</tspan><tspan class="m" x="202.00" y="27.0">P</tspan><tspan class="m" x="207.00" y="27.0">a</tspan></text>
<text fill="#00aaff" stroke="#00aaff" stroke-width="0.3" text-anchor="middle"><tspan class="s" x="227.00" y="27.0">0</tspan><tspan class="m" x="232.00" y="27.0">.</tspan><tspan class="s" x="237.00" y="27.0">0</tspan><tspan class="m" x="242.00" y="27.0">m</tspan><tspan class="m" x="247.00" y="27.0">m</tspan></text>
<text fill="#000000" stroke="#000000" stroke-width="0.3" text-anchor="middle"><tspan class="m" x="82.00" y="37.0">m</tspan><tspan class="m" x="87.00" y="37.0">i</tspan><tspan class="m" x="92.00" y="37.0">n</tspan></text>
<text fill="#0000cd" stroke="#0000cd" stroke-width="0.3" text-anchor="middle"><tspan class="s" x="107.00" y="37.0">3</tspan><tspan class="m" x="112.00" y="37.0">.</tspan><tspan class="s" x="117.00" y="37.0">6</tspan><tspan class="d" x="122.00" y="37.9">°</tspan><tspan class="m" x="127.00" y="37.0">C</tspan></text>
<text fill="#0000cd" stroke="#0000cd" stroke-width="0.3" text-anchor="middle"><tspan class="s" x="142.00" y="37.0">7</tspan><tspan class="s" x="147.00" y="37.0">8</tspan><tspan class="m" x="152.00" y="37.0">%</tspan></text>
<text fill="#0000cd" stroke="#0000cd" stroke-width="0.3" text-anchor="middle"><tspan class="s" x="167.00" y="37.0">1</tspan><tspan class="s" x="172.00" y="37.0">0</tspan><tspan class="s" x="177.00" y="37.0">2</tspan><tspan class="s" x="182.00" y="37.0">1</tspan><tspan class="m" x="187.00" y="37.0">h</tspan><tspan class="m" x="192.00" y="37.0">P</tspan><tspan class="m" x="197.00" y="37.0">a</tspan></text>
<text fill="#000000" stroke="#000000" stroke-width="0.3" text-anchor="middle"><tspan class="m" x="82.00" y="47.0">a</tspan><tspan class="m" x="87.00" y="47.0">v</tspan><tspan class="m" x="92.00" y="47.0">g</tspan></text>
<text fill="#000000" stroke="#000000" stroke-width="0.3" text-anchor="middle"><tspan class="s" x="107.00" y="47.0">6</tspan><tspan class="m" x="112.00" y="47.0">.</tspan><tspan class="s" x="117.00" y="47.0">9</tspan><tspan class="d" x="122.00" y="47.9">°</tspan><tspan class="m" x="127.00" y="47.0">C</tspan></text>
<text fill="#000000" stroke="#000000" stroke-width="0.3" text-anchor="middle"><tspan class="m" x="501.00" y="27.0">W</tspan><tspan class="m" x="506.00" y="27.0">S</tspan><tspan class="m" x="511.00" y="27.0">:</tspan><tspan class="s" x="516.00" y="27.0">0</tspan><tspan class="m" x="521.00" y="27.0">.</tspan><tspan class="s" x="526.00" y="27.0">9</tspan><tspan class="m" x="531.00" y="27.0">m</tspan><tspan class="m" x="536.00" y="27.0">/</tspan><tspan class="m" x="541.00" y="27.0">s</tspan></text>
<text fill="#000000" stroke="#000000" stroke-width="0.3" text-anchor="middle"><tspan class="m" x="571.00" y="27.0">W</tspan><tspan class="m" x="576.00" y="27.0">G</tspan><tspan class="m" x="581.00" y="27.0">:</tspan><tspan class="s" x="586.00" y="27.0">3</tspan><tspan class="m" x="591.00" y="27.0">.</tspan><tspan class="s" x="596.00" y="27.0">1</tspan><tspan class="m" x="601.00" y="27.0">m</tspan><tspan class="m" x="606.00" y="27.0">/</tspan><tspan class="m" x="611.00" y="27.0">s</tspan></text>
<text fill="#000000" stroke="#000000" stroke-width="0.3" text-anchor="middle"><tspan class="m" x="501.00" y="37.0">V</tspan><tspan class="m" x="506.00" y="37.0">ý</tspan><tspan class="m" x="511.00" y="37.0">c</tspan><tspan class="m" x="516.00" y="37.0">h</tspan><tspan class="m" x="521.00" y="37.0">o</tspan><tspan class="m" x="526.00" y="37.0">d</tspan><tspan class="m" x="531.00" y="37.0">:</tspan><tspan class="s" x="536.00" y="37.0">0</tspan><tspan class="s" x="541.00" y="37.0">7</tspan><tspan class="m" x="546.00" y="37.0">:</tspan><tspan class="s" x="551.00" y="37.0">3</tspan><tspan class="s" x="556.00" y="37.0">9</tspan></text>
<text fill="#000000" stroke="#000000" stroke-width="0.3" text-anchor="middle"><tspan class="m" x="571.00" y="37.0">Z</tspan><tspan class="m" x="576.00" y="37.0">á</tspan><tspan class="m" x="581.00" y="37.0">p</tspan><tspan class="m" x="586.00" y="37.0">a</tspan><tspan class="m" x="591.00" y="37.0">d</tspan><tspan class="m" x="596.00" y="37.0">:</tspan><tspan class="s" x="601.00" y="37.0">1</tspan><tspan class="s" x="606.00" y="37.0">7</tspan><tspan class="m" x="611.00" y="37.0">:</tspan><tspan class="s" x="616.00" y="37.0">3</tspan><tspan class="s" x="621.00" y="37.0">5</tspan></text>
<rect x="413" y="42" width="73" height="12" fill="#fff"/>
<text x="414.6" y="51" font-size="12.6" font-weight="bold" textLength="69.5" lengthAdjust="spacingAndGlyphs" fill="#000" stroke="#000" stroke-width="0.5">31.10.2011</text>
<path d="M0.5 0.5H899.5V399.5H0.5Z" fill="none" stroke="#000" stroke-width="1" shape-rendering="crispEdges"/>
</svg></body></html>
